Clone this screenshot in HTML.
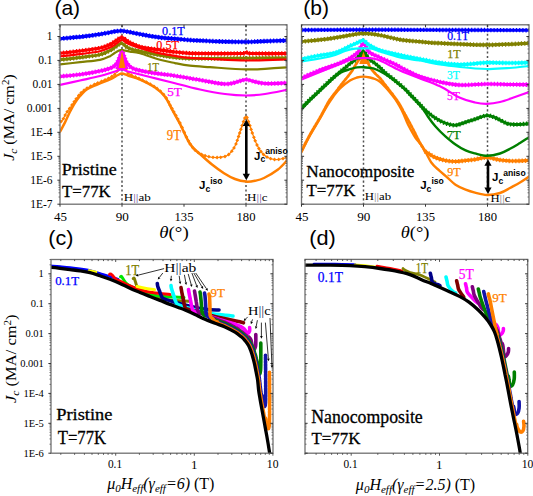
<!DOCTYPE html>
<html><head><meta charset="utf-8"><style>
html,body{margin:0;padding:0;background:#fff;width:533px;height:496px;overflow:hidden}
svg{display:block}
</style></head><body>
<svg width="533" height="496" viewBox="0 0 533 496">
<rect width="533" height="496" fill="#fff"/>
<clipPath id="cpa"><rect x="60.0" y="24.8" width="227.0" height="179.39999999999998"/></clipPath>
<clipPath id="cpb"><rect x="301.5" y="24.8" width="227.5" height="179.39999999999998"/></clipPath>
<clipPath id="cpc"><rect x="51.0" y="259.5" width="222.0" height="193.7"/></clipPath>
<clipPath id="cpd"><rect x="305.0" y="259.4" width="222.70000000000005" height="193.8"/></clipPath>
<line x1="122.0" y1="24.8" x2="122.0" y2="204.2" stroke="#505050" stroke-width="1.5" stroke-dasharray="2.1 2.35"/>
<line x1="246.0" y1="24.8" x2="246.0" y2="204.2" stroke="#505050" stroke-width="1.5" stroke-dasharray="2.1 2.35"/>
<line x1="363.5" y1="24.8" x2="363.5" y2="204.2" stroke="#505050" stroke-width="1.5" stroke-dasharray="2.1 2.35"/>
<line x1="487.5" y1="24.8" x2="487.5" y2="204.2" stroke="#505050" stroke-width="1.5" stroke-dasharray="2.1 2.35"/>
<g clip-path="url(#cpa)">
<path d="M60.0,131.8 C60.8,130.2 63.3,125.7 65.0,122.4 C66.7,119.1 68.3,115.1 70.0,111.8 C71.7,108.5 73.3,105.4 75.0,102.8 C76.7,100.2 78.3,98.0 80.0,96.0 C81.7,94.0 83.3,92.1 85.0,90.7 C86.7,89.3 87.5,88.9 90.0,87.7 C92.5,86.5 96.7,84.7 100.0,83.3 C103.3,81.9 107.0,80.8 110.0,79.4 C113.0,78.0 116.0,76.0 118.0,75.0 C120.0,74.0 120.3,73.4 122.0,73.5 C123.7,73.6 125.0,74.5 128.0,75.5 C131.0,76.5 135.5,77.5 140.0,79.5 C144.5,81.5 150.8,84.6 155.0,87.5 C159.2,90.4 162.2,93.0 165.0,96.7 C167.8,100.4 169.5,104.9 172.0,109.4 C174.5,114.0 177.0,118.2 180.0,124.0 C183.0,129.8 186.7,139.0 190.0,144.0 C193.3,149.0 196.3,150.6 200.0,154.0 C203.7,157.4 208.0,161.3 212.0,164.5 C216.0,167.7 220.2,170.8 224.0,173.2 C227.8,175.6 231.3,177.6 235.0,179.0 C238.7,180.4 242.7,181.3 246.0,181.6 C249.3,181.9 252.0,181.4 255.0,180.8 C258.0,180.2 260.2,179.9 264.0,178.0 C267.8,176.1 274.2,172.4 278.0,169.5 C281.8,166.6 285.5,162.0 287.0,160.5" fill="none" stroke="#ff7f00" stroke-width="2.5" stroke-linejoin="round" stroke-linecap="round" />
<path d="M61.0,121.5 C61.3,121.2 62.2,120.8 63.0,119.5 C63.8,118.2 64.8,115.4 66.0,113.5 C67.2,111.6 68.5,110.2 70.0,108.0 C71.5,105.8 73.3,102.8 75.0,100.5 C76.7,98.2 78.3,95.8 80.0,94.0 C81.7,92.2 83.0,90.9 85.0,89.5 C87.0,88.1 89.5,86.8 92.0,85.5 C94.5,84.2 97.0,83.3 100.0,82.0 C103.0,80.7 107.3,79.0 110.0,77.5 C112.7,76.0 114.5,74.9 116.0,73.0 C117.5,71.1 118.2,68.8 119.0,66.0 C119.8,63.2 120.5,58.5 121.0,56.0 C121.5,53.5 121.7,51.0 122.0,51.0 C122.3,51.0 122.5,53.5 123.0,56.0 C123.5,58.5 124.2,63.2 125.0,66.0 C125.8,68.8 125.5,70.8 128.0,73.0 C130.5,75.2 135.5,76.7 140.0,79.0 C144.5,81.3 150.8,84.2 155.0,87.0 C159.2,89.8 162.2,92.4 165.0,96.0 C167.8,99.6 169.5,104.0 172.0,108.5 C174.5,113.0 177.2,117.6 180.0,123.0 C182.8,128.4 185.8,136.3 188.5,141.0 C191.2,145.7 193.1,148.5 196.0,151.0 C198.9,153.5 202.3,154.9 206.0,156.0 C209.7,157.1 214.3,157.7 218.0,157.5 C221.7,157.3 225.2,156.9 228.0,155.0 C230.8,153.1 233.0,149.8 235.0,146.0 C237.0,142.2 238.7,135.8 240.0,132.0 C241.3,128.2 242.0,125.6 243.0,123.0 C244.0,120.4 245.0,116.4 246.0,116.4 C247.0,116.4 248.0,120.4 249.0,123.0 C250.0,125.6 250.7,128.3 252.0,132.0 C253.3,135.7 255.2,141.3 257.0,145.0 C258.8,148.7 260.8,151.8 263.0,154.0 C265.2,156.2 267.5,157.6 270.0,158.5 C272.5,159.4 275.2,159.7 278.0,159.5 C280.8,159.3 285.5,157.8 287.0,157.5" fill="none" stroke="#ff7f00" stroke-width="1.2" stroke-linejoin="round" stroke-linecap="round" />
<path d="M61.0,119.6l1.9,1.9l-1.9,1.9l-1.9,-1.9zM63.4,116.8l1.9,1.9l-1.9,1.9l-1.9,-1.9zM65.2,113.2l1.9,1.9l-1.9,1.9l-1.9,-1.9zM67.2,109.8l1.9,1.9l-1.9,1.9l-1.9,-1.9zM69.6,106.6l1.9,1.9l-1.9,1.9l-1.9,-1.9zM72.0,103.1l1.9,1.9l-1.9,1.9l-1.9,-1.9zM74.2,99.8l1.9,1.9l-1.9,1.9l-1.9,-1.9zM76.2,96.9l1.9,1.9l-1.9,1.9l-1.9,-1.9zM78.8,93.6l1.9,1.9l-1.9,1.9l-1.9,-1.9zM81.2,90.8l1.9,1.9l-1.9,1.9l-1.9,-1.9zM84.1,88.3l1.9,1.9l-1.9,1.9l-1.9,-1.9zM87.1,86.2l1.9,1.9l-1.9,1.9l-1.9,-1.9zM90.8,84.2l1.9,1.9l-1.9,1.9l-1.9,-1.9zM94.5,82.4l1.9,1.9l-1.9,1.9l-1.9,-1.9zM97.8,81.0l1.9,1.9l-1.9,1.9l-1.9,-1.9zM101.6,79.4l1.9,1.9l-1.9,1.9l-1.9,-1.9zM105.1,77.9l1.9,1.9l-1.9,1.9l-1.9,-1.9zM108.5,76.4l1.9,1.9l-1.9,1.9l-1.9,-1.9zM111.9,74.5l1.9,1.9l-1.9,1.9l-1.9,-1.9zM114.8,72.4l1.9,1.9l-1.9,1.9l-1.9,-1.9zM117.3,69.1l1.9,1.9l-1.9,1.9l-1.9,-1.9zM118.6,65.5l1.9,1.9l-1.9,1.9l-1.9,-1.9zM119.6,61.7l1.9,1.9l-1.9,1.9l-1.9,-1.9zM120.3,58.1l1.9,1.9l-1.9,1.9l-1.9,-1.9zM121.0,54.1l1.9,1.9l-1.9,1.9l-1.9,-1.9zM121.6,50.2l1.9,1.9l-1.9,1.9l-1.9,-1.9zM122.6,51.7l1.9,1.9l-1.9,1.9l-1.9,-1.9zM123.3,55.5l1.9,1.9l-1.9,1.9l-1.9,-1.9zM124.0,59.9l1.9,1.9l-1.9,1.9l-1.9,-1.9zM125.0,64.1l1.9,1.9l-1.9,1.9l-1.9,-1.9zM125.9,67.8l1.9,1.9l-1.9,1.9l-1.9,-1.9zM128.0,71.1l1.9,1.9l-1.9,1.9l-1.9,-1.9zM131.2,73.1l1.9,1.9l-1.9,1.9l-1.9,-1.9zM135.4,75.0l1.9,1.9l-1.9,1.9l-1.9,-1.9zM138.9,76.5l1.9,1.9l-1.9,1.9l-1.9,-1.9zM142.4,78.3l1.9,1.9l-1.9,1.9l-1.9,-1.9zM146.3,80.2l1.9,1.9l-1.9,1.9l-1.9,-1.9zM150.3,82.3l1.9,1.9l-1.9,1.9l-1.9,-1.9zM153.9,84.4l1.9,1.9l-1.9,1.9l-1.9,-1.9zM157.0,86.5l1.9,1.9l-1.9,1.9l-1.9,-1.9zM160.5,89.3l1.9,1.9l-1.9,1.9l-1.9,-1.9zM163.6,92.4l1.9,1.9l-1.9,1.9l-1.9,-1.9zM166.3,96.0l1.9,1.9l-1.9,1.9l-1.9,-1.9zM168.6,100.0l1.9,1.9l-1.9,1.9l-1.9,-1.9zM170.2,103.3l1.9,1.9l-1.9,1.9l-1.9,-1.9zM172.0,106.6l1.9,1.9l-1.9,1.9l-1.9,-1.9zM173.9,110.0l1.9,1.9l-1.9,1.9l-1.9,-1.9zM175.9,113.5l1.9,1.9l-1.9,1.9l-1.9,-1.9zM177.9,117.2l1.9,1.9l-1.9,1.9l-1.9,-1.9zM180.0,121.1l1.9,1.9l-1.9,1.9l-1.9,-1.9zM182.1,125.5l1.9,1.9l-1.9,1.9l-1.9,-1.9zM184.3,130.4l1.9,1.9l-1.9,1.9l-1.9,-1.9zM186.4,135.1l1.9,1.9l-1.9,1.9l-1.9,-1.9zM188.5,139.1l1.9,1.9l-1.9,1.9l-1.9,-1.9zM190.4,142.3l1.9,1.9l-1.9,1.9l-1.9,-1.9zM192.7,145.7l1.9,1.9l-1.9,1.9l-1.9,-1.9zM195.3,148.5l1.9,1.9l-1.9,1.9l-1.9,-1.9zM198.3,150.8l1.9,1.9l-1.9,1.9l-1.9,-1.9zM201.6,152.5l1.9,1.9l-1.9,1.9l-1.9,-1.9zM205.1,153.8l1.9,1.9l-1.9,1.9l-1.9,-1.9zM208.9,154.8l1.9,1.9l-1.9,1.9l-1.9,-1.9zM213.0,155.4l1.9,1.9l-1.9,1.9l-1.9,-1.9zM217.1,155.6l1.9,1.9l-1.9,1.9l-1.9,-1.9zM220.7,155.4l1.9,1.9l-1.9,1.9l-1.9,-1.9zM225.0,154.6l1.9,1.9l-1.9,1.9l-1.9,-1.9zM228.7,152.6l1.9,1.9l-1.9,1.9l-1.9,-1.9zM231.8,149.3l1.9,1.9l-1.9,1.9l-1.9,-1.9zM234.0,146.0l1.9,1.9l-1.9,1.9l-1.9,-1.9zM236.0,142.0l1.9,1.9l-1.9,1.9l-1.9,-1.9zM237.3,138.4l1.9,1.9l-1.9,1.9l-1.9,-1.9zM238.6,134.6l1.9,1.9l-1.9,1.9l-1.9,-1.9zM239.7,131.1l1.9,1.9l-1.9,1.9l-1.9,-1.9zM240.9,127.4l1.9,1.9l-1.9,1.9l-1.9,-1.9zM242.1,123.7l1.9,1.9l-1.9,1.9l-1.9,-1.9zM243.5,119.7l1.9,1.9l-1.9,1.9l-1.9,-1.9zM244.8,116.2l1.9,1.9l-1.9,1.9l-1.9,-1.9zM247.0,115.6l1.9,1.9l-1.9,1.9l-1.9,-1.9zM248.5,119.7l1.9,1.9l-1.9,1.9l-1.9,-1.9zM249.9,123.8l1.9,1.9l-1.9,1.9l-1.9,-1.9zM251.1,127.5l1.9,1.9l-1.9,1.9l-1.9,-1.9zM252.3,131.1l1.9,1.9l-1.9,1.9l-1.9,-1.9zM253.9,135.4l1.9,1.9l-1.9,1.9l-1.9,-1.9zM255.2,138.9l1.9,1.9l-1.9,1.9l-1.9,-1.9zM257.0,143.1l1.9,1.9l-1.9,1.9l-1.9,-1.9zM258.9,146.6l1.9,1.9l-1.9,1.9l-1.9,-1.9zM260.9,149.6l1.9,1.9l-1.9,1.9l-1.9,-1.9zM263.5,152.6l1.9,1.9l-1.9,1.9l-1.9,-1.9zM267.0,155.2l1.9,1.9l-1.9,1.9l-1.9,-1.9zM270.6,156.8l1.9,1.9l-1.9,1.9l-1.9,-1.9zM274.5,157.6l1.9,1.9l-1.9,1.9l-1.9,-1.9zM278.7,157.5l1.9,1.9l-1.9,1.9l-1.9,-1.9zM283.0,156.7l1.9,1.9l-1.9,1.9l-1.9,-1.9zM286.6,155.7l1.9,1.9l-1.9,1.9l-1.9,-1.9z" fill="#ff7f00"/>
<path d="M60.0,85.0 C63.3,84.2 73.3,82.0 80.0,80.5 C86.7,79.0 94.2,77.5 100.0,76.0 C105.8,74.5 111.3,72.6 115.0,71.5 C118.7,70.4 119.5,69.4 122.0,69.5 C124.5,69.6 125.3,70.8 130.0,72.0 C134.7,73.2 143.3,75.3 150.0,77.0 C156.7,78.7 161.7,79.9 170.0,82.0 C178.3,84.1 190.8,87.5 200.0,89.5 C209.2,91.5 217.3,93.0 225.0,94.0 C232.7,95.0 239.3,95.5 246.0,95.5 C252.7,95.5 258.2,95.0 265.0,94.0 C271.8,93.0 283.3,90.5 287.0,89.8" fill="none" stroke="#ff00ff" stroke-width="2.2" stroke-linejoin="round" stroke-linecap="round" />
<path d="M60.0,76.4 C63.3,76.1 73.3,75.4 80.0,74.5 C86.7,73.6 94.7,72.2 100.0,71.0 C105.3,69.8 109.2,68.8 112.0,67.5 C114.8,66.2 115.7,64.9 117.0,63.0 C118.3,61.1 119.2,57.9 120.0,56.0 C120.8,54.1 121.3,51.5 122.0,51.5 C122.7,51.5 123.2,54.1 124.0,56.0 C124.8,57.9 125.5,60.9 127.0,63.0 C128.5,65.1 129.2,66.9 133.0,68.5 C136.8,70.1 143.8,71.4 150.0,72.5 C156.2,73.6 161.7,73.8 170.0,75.0 C178.3,76.2 190.8,78.5 200.0,80.0 C209.2,81.5 218.3,83.8 225.0,84.0 C231.7,84.2 236.5,81.8 240.0,81.0 C243.5,80.2 244.0,79.5 246.0,79.5 C248.0,79.5 248.8,80.3 252.0,81.0 C255.2,81.7 259.2,83.2 265.0,83.5 C270.8,83.8 283.3,83.1 287.0,83.0" fill="none" stroke="#ff00ff" stroke-width="3.2" stroke-linejoin="round" stroke-linecap="round"/>
<path d="M60.0,76.4 C63.3,76.1 73.3,75.4 80.0,74.5 C86.7,73.6 94.7,72.2 100.0,71.0 C105.3,69.8 109.2,68.8 112.0,67.5 C114.8,66.2 115.7,64.9 117.0,63.0 C118.3,61.1 119.2,57.9 120.0,56.0 C120.8,54.1 121.3,51.5 122.0,51.5 C122.7,51.5 123.2,54.1 124.0,56.0 C124.8,57.9 125.5,60.9 127.0,63.0 C128.5,65.1 129.2,66.9 133.0,68.5 C136.8,70.1 143.8,71.4 150.0,72.5 C156.2,73.6 161.7,73.8 170.0,75.0 C178.3,76.2 190.8,78.5 200.0,80.0 C209.2,81.5 218.3,83.8 225.0,84.0 C231.7,84.2 236.5,81.8 240.0,81.0 C243.5,80.2 244.0,79.5 246.0,79.5 C248.0,79.5 248.8,80.3 252.0,81.0 C255.2,81.7 259.2,83.2 265.0,83.5 C270.8,83.8 283.3,83.1 287.0,83.0" fill="none" stroke="#ff00ff" stroke-width="4.6" stroke-dasharray="1.2 2.0" stroke-linejoin="round"/>
<path d="M60.0,64.4 C63.3,64.0 73.3,63.0 80.0,62.2 C86.7,61.4 95.0,60.8 100.0,59.8 C105.0,58.8 107.5,57.4 110.0,56.2 C112.5,55.0 113.5,53.7 115.0,52.8 C116.5,51.9 117.8,51.1 119.0,50.6 C120.2,50.1 121.0,49.8 122.0,49.8 C123.0,49.8 123.7,50.3 125.0,50.6 C126.3,50.9 127.5,51.2 130.0,51.6 C132.5,52.0 135.0,51.9 140.0,53.3 C145.0,54.7 154.2,58.2 160.0,59.8 C165.8,61.4 170.0,62.1 175.0,63.1 C180.0,64.1 184.2,65.0 190.0,65.7 C195.8,66.4 200.7,66.6 210.0,67.2 C219.3,67.8 236.8,69.1 246.0,69.4 C255.2,69.7 258.2,69.2 265.0,68.8 C271.8,68.4 283.3,67.5 287.0,67.3" fill="none" stroke="#808000" stroke-width="2.2" stroke-linejoin="round" stroke-linecap="round" />
<path d="M60.0,59.8 C63.3,59.4 73.3,58.4 80.0,57.5 C86.7,56.6 95.0,55.8 100.0,54.6 C105.0,53.4 107.5,51.7 110.0,50.5 C112.5,49.3 113.5,48.3 115.0,47.3 C116.5,46.3 117.8,45.1 119.0,44.5 C120.2,43.9 120.8,43.1 122.0,43.4 C123.2,43.7 124.7,45.6 126.0,46.5 C127.3,47.4 127.7,47.9 130.0,48.7 C132.3,49.5 135.0,50.2 140.0,51.3 C145.0,52.4 154.2,54.2 160.0,55.2 C165.8,56.2 170.0,56.9 175.0,57.4 C180.0,57.9 184.2,58.3 190.0,58.5 C195.8,58.7 200.7,58.5 210.0,58.5 C219.3,58.5 233.2,58.3 246.0,58.2 C258.8,58.1 280.2,58.0 287.0,58.0" fill="none" stroke="#808000" stroke-width="3.0" stroke-linejoin="round" stroke-linecap="round"/>
<path d="M60.0,59.8 C63.3,59.4 73.3,58.4 80.0,57.5 C86.7,56.6 95.0,55.8 100.0,54.6 C105.0,53.4 107.5,51.7 110.0,50.5 C112.5,49.3 113.5,48.3 115.0,47.3 C116.5,46.3 117.8,45.1 119.0,44.5 C120.2,43.9 120.8,43.1 122.0,43.4 C123.2,43.7 124.7,45.6 126.0,46.5 C127.3,47.4 127.7,47.9 130.0,48.7 C132.3,49.5 135.0,50.2 140.0,51.3 C145.0,52.4 154.2,54.2 160.0,55.2 C165.8,56.2 170.0,56.9 175.0,57.4 C180.0,57.9 184.2,58.3 190.0,58.5 C195.8,58.7 200.7,58.5 210.0,58.5 C219.3,58.5 233.2,58.3 246.0,58.2 C258.8,58.1 280.2,58.0 287.0,58.0" fill="none" stroke="#808000" stroke-width="4.4" stroke-dasharray="1.2 2.0" stroke-linejoin="round"/>
<path d="M60.0,56.5 C63.3,56.1 73.3,55.1 80.0,54.2 C86.7,53.3 95.0,52.4 100.0,51.3 C105.0,50.2 107.5,48.6 110.0,47.5 C112.5,46.4 113.5,45.7 115.0,44.7 C116.5,43.7 117.8,42.3 119.0,41.5 C120.2,40.7 120.8,39.8 122.0,40.0 C123.2,40.2 124.7,41.8 126.0,42.5 C127.3,43.2 127.7,43.6 130.0,44.5 C132.3,45.4 136.7,46.9 140.0,48.0 C143.3,49.1 146.7,50.1 150.0,51.0 C153.3,51.9 155.8,52.5 160.0,53.3 C164.2,54.1 170.0,55.1 175.0,55.9 C180.0,56.7 184.2,57.4 190.0,57.9 C195.8,58.4 200.7,58.6 210.0,59.0 C219.3,59.4 233.2,60.4 246.0,60.5 C258.8,60.6 280.2,59.7 287.0,59.5" fill="none" stroke="#ff0000" stroke-width="2.2" stroke-linejoin="round" stroke-linecap="round" />
<path d="M60.0,53.3 C63.3,52.9 73.3,51.9 80.0,51.0 C86.7,50.1 95.0,49.1 100.0,48.0 C105.0,46.9 107.5,45.6 110.0,44.5 C112.5,43.4 113.5,42.4 115.0,41.4 C116.5,40.4 117.8,39.2 119.0,38.6 C120.2,38.0 120.8,37.4 122.0,37.6 C123.2,37.8 124.7,39.1 126.0,40.0 C127.3,40.9 127.7,41.6 130.0,42.7 C132.3,43.8 136.7,45.7 140.0,46.7 C143.3,47.7 146.7,48.1 150.0,48.6 C153.3,49.1 155.8,49.4 160.0,50.0 C164.2,50.6 170.0,51.5 175.0,52.0 C180.0,52.5 185.8,53.0 190.0,53.3 C194.2,53.5 191.7,53.5 200.0,53.5 C208.3,53.5 232.3,53.6 240.0,53.5 C247.7,53.4 244.0,52.6 246.0,52.6 C248.0,52.6 245.2,53.4 252.0,53.5 C258.8,53.6 281.2,53.5 287.0,53.5" fill="none" stroke="#ff0000" stroke-width="3.2" stroke-linejoin="round" stroke-linecap="round"/>
<path d="M60.0,53.3 C63.3,52.9 73.3,51.9 80.0,51.0 C86.7,50.1 95.0,49.1 100.0,48.0 C105.0,46.9 107.5,45.6 110.0,44.5 C112.5,43.4 113.5,42.4 115.0,41.4 C116.5,40.4 117.8,39.2 119.0,38.6 C120.2,38.0 120.8,37.4 122.0,37.6 C123.2,37.8 124.7,39.1 126.0,40.0 C127.3,40.9 127.7,41.6 130.0,42.7 C132.3,43.8 136.7,45.7 140.0,46.7 C143.3,47.7 146.7,48.1 150.0,48.6 C153.3,49.1 155.8,49.4 160.0,50.0 C164.2,50.6 170.0,51.5 175.0,52.0 C180.0,52.5 185.8,53.0 190.0,53.3 C194.2,53.5 191.7,53.5 200.0,53.5 C208.3,53.5 232.3,53.6 240.0,53.5 C247.7,53.4 244.0,52.6 246.0,52.6 C248.0,52.6 245.2,53.4 252.0,53.5 C258.8,53.6 281.2,53.5 287.0,53.5" fill="none" stroke="#ff0000" stroke-width="4.6" stroke-dasharray="1.2 2.0" stroke-linejoin="round"/>
<path d="M115.5,69 L119.5,57 L121.3,50.3 L122.7,50.3 L124.5,57 L128.5,69 Z" fill="#ff00ff"/>
<path d="M118.6,68 L120.6,58 L121.6,52.2 L122.4,52.2 L123.4,58 L125.4,68 Z" fill="#ff8000"/>
<path d="M60.0,38.8 C62.5,38.5 70.0,37.8 75.0,37.3 C80.0,36.8 85.8,36.2 90.0,35.7 C94.2,35.2 96.7,34.8 100.0,34.2 C103.3,33.7 107.3,32.9 110.0,32.4 C112.7,31.9 114.0,31.6 116.0,31.3 C118.0,31.1 119.7,30.8 122.0,30.9 C124.3,31.0 127.0,31.7 130.0,32.2 C133.0,32.8 136.7,33.6 140.0,34.2 C143.3,34.8 146.7,35.5 150.0,36.0 C153.3,36.5 155.8,37.0 160.0,37.5 C164.2,38.0 170.0,38.4 175.0,38.8 C180.0,39.2 185.8,39.8 190.0,40.1 C194.2,40.4 195.0,40.4 200.0,40.6 C205.0,40.8 212.3,41.3 220.0,41.5 C227.7,41.7 238.5,41.9 246.0,41.9 C253.5,41.9 258.2,41.4 265.0,41.2 C271.8,41.0 283.3,40.6 287.0,40.5" fill="none" stroke="#0000ff" stroke-width="3.4" stroke-linejoin="round" stroke-linecap="round"/>
<path d="M60.0,38.8 C62.5,38.5 70.0,37.8 75.0,37.3 C80.0,36.8 85.8,36.2 90.0,35.7 C94.2,35.2 96.7,34.8 100.0,34.2 C103.3,33.7 107.3,32.9 110.0,32.4 C112.7,31.9 114.0,31.6 116.0,31.3 C118.0,31.1 119.7,30.8 122.0,30.9 C124.3,31.0 127.0,31.7 130.0,32.2 C133.0,32.8 136.7,33.6 140.0,34.2 C143.3,34.8 146.7,35.5 150.0,36.0 C153.3,36.5 155.8,37.0 160.0,37.5 C164.2,38.0 170.0,38.4 175.0,38.8 C180.0,39.2 185.8,39.8 190.0,40.1 C194.2,40.4 195.0,40.4 200.0,40.6 C205.0,40.8 212.3,41.3 220.0,41.5 C227.7,41.7 238.5,41.9 246.0,41.9 C253.5,41.9 258.2,41.4 265.0,41.2 C271.8,41.0 283.3,40.6 287.0,40.5" fill="none" stroke="#0000ff" stroke-width="4.8" stroke-dasharray="1.2 2.0" stroke-linejoin="round"/>
</g>
<g clip-path="url(#cpb)">
<path d="M301.5,152.0 C302.9,149.2 306.9,141.1 310.0,135.5 C313.1,129.9 317.2,123.4 320.0,118.5 C322.8,113.6 324.8,109.6 327.0,106.0 C329.2,102.4 330.8,99.8 333.0,96.9 C335.2,94.0 337.2,91.1 340.0,88.4 C342.8,85.7 347.2,82.4 350.0,80.6 C352.8,78.8 354.8,78.2 357.0,77.5 C359.2,76.8 361.3,76.6 363.5,76.6 C365.7,76.6 368.1,77.1 370.0,77.5 C371.9,77.9 373.3,78.3 375.0,79.0 C376.7,79.7 378.3,80.5 380.0,81.8 C381.7,83.1 383.3,84.9 385.0,86.7 C386.7,88.5 388.3,90.4 390.0,92.4 C391.7,94.4 393.3,96.5 395.0,98.9 C396.7,101.3 398.5,104.3 400.0,107.0 C401.5,109.7 402.7,112.1 404.0,115.0 C405.3,117.9 406.1,120.8 408.0,124.5 C409.9,128.2 412.9,133.8 415.3,137.5 C417.7,141.2 419.7,142.2 422.4,146.4 C425.1,150.6 428.5,158.5 431.3,162.5 C434.1,166.5 436.7,168.1 439.4,170.6 C442.1,173.1 444.7,175.2 447.4,177.6 C450.1,179.9 452.5,182.7 455.5,184.7 C458.5,186.7 462.4,188.4 465.6,189.7 C468.9,191.0 471.4,191.8 475.0,192.7 C478.6,193.6 482.8,194.9 487.0,195.0 C491.2,195.1 496.2,194.2 500.0,193.0 C503.8,191.8 506.7,189.8 510.0,188.0 C513.3,186.2 516.8,184.4 520.0,182.5 C523.2,180.6 527.5,177.6 529.0,176.6" fill="none" stroke="#ff7f00" stroke-width="2.4" stroke-linejoin="round" stroke-linecap="round" />
<path d="M301.5,151.0 C302.9,148.2 306.9,140.1 310.0,134.5 C313.1,128.9 316.8,123.1 320.0,117.5 C323.2,111.9 326.2,105.5 329.0,101.0 C331.8,96.5 334.7,93.4 337.0,90.3 C339.3,87.2 341.2,84.7 343.0,82.4 C344.8,80.1 346.5,78.2 348.0,76.3 C349.5,74.4 350.7,72.9 352.0,70.9 C353.3,68.9 354.7,66.3 356.0,64.2 C357.3,62.1 358.8,60.2 360.0,58.2 C361.2,56.2 362.3,51.7 363.5,52.0 C364.7,52.3 365.9,57.5 367.0,60.0 C368.1,62.5 368.7,64.8 370.0,67.0 C371.3,69.2 373.3,71.4 375.0,73.3 C376.7,75.2 378.3,76.3 380.0,78.2 C381.7,80.1 383.3,82.5 385.0,84.6 C386.7,86.7 388.3,88.8 390.0,91.0 C391.7,93.2 393.3,95.2 395.0,97.5 C396.7,99.8 398.5,102.5 400.0,105.0 C401.5,107.5 402.5,109.8 404.0,112.5 C405.5,115.2 407.2,118.1 409.0,121.5 C410.8,124.9 413.2,129.4 415.0,133.0 C416.8,136.6 418.3,139.9 420.0,143.0 C421.7,146.1 424.3,150.0 425.2,151.4" fill="none" stroke="#ff7f00" stroke-width="2.8" stroke-linejoin="round" stroke-linecap="round" stroke-dasharray="2.2 1.6"/>
<path d="M425.2,151.4 C426.9,152.4 431.9,156.0 435.3,157.5 C438.7,159.0 442.0,159.8 445.4,160.5 C448.8,161.2 452.1,161.5 455.5,161.5 C458.9,161.5 462.4,160.8 465.6,160.5 C468.9,160.2 471.4,160.0 475.0,159.5 C478.6,159.0 482.8,157.4 487.0,157.5 C491.2,157.6 495.8,159.4 500.0,160.0 C504.2,160.6 507.2,160.9 512.0,161.0 C516.8,161.1 526.2,160.5 529.0,160.4" fill="none" stroke="#ff7f00" stroke-width="3.2" stroke-linejoin="round" stroke-linecap="round"/>
<path d="M425.2,151.4 C426.9,152.4 431.9,156.0 435.3,157.5 C438.7,159.0 442.0,159.8 445.4,160.5 C448.8,161.2 452.1,161.5 455.5,161.5 C458.9,161.5 462.4,160.8 465.6,160.5 C468.9,160.2 471.4,160.0 475.0,159.5 C478.6,159.0 482.8,157.4 487.0,157.5 C491.2,157.6 495.8,159.4 500.0,160.0 C504.2,160.6 507.2,160.9 512.0,161.0 C516.8,161.1 526.2,160.5 529.0,160.4" fill="none" stroke="#ff7f00" stroke-width="4.6" stroke-dasharray="1.2 2.0" stroke-linejoin="round"/>
<path d="M301.5,109.5 C302.9,108.0 306.9,103.6 310.0,100.5 C313.1,97.4 316.7,94.2 320.0,91.0 C323.3,87.8 326.7,84.5 330.0,81.5 C333.3,78.5 336.7,75.0 340.0,73.0 C343.3,71.0 347.2,70.1 350.0,69.2 C352.8,68.3 354.8,67.7 357.0,67.4 C359.2,67.1 361.3,67.1 363.5,67.2 C365.7,67.3 368.1,67.7 370.0,68.0 C371.9,68.3 372.5,68.0 375.0,69.0 C377.5,70.0 381.7,72.0 385.0,74.0 C388.3,76.0 391.7,78.4 395.0,81.0 C398.3,83.6 402.5,87.1 405.0,89.5 C407.5,91.9 408.3,93.4 410.0,95.2 C411.7,97.0 413.2,98.3 415.3,100.5 C417.4,102.7 420.3,105.5 422.4,108.2 C424.5,110.9 425.9,113.7 428.0,116.7 C430.1,119.7 432.4,122.9 435.3,126.2 C438.2,129.5 442.0,133.3 445.4,136.3 C448.8,139.3 452.1,142.1 455.5,144.4 C458.9,146.8 462.4,148.9 465.6,150.4 C468.9,151.9 471.4,152.5 475.0,153.4 C478.6,154.3 482.8,155.8 487.0,155.8 C491.2,155.8 496.2,154.7 500.0,153.5 C503.8,152.3 506.7,150.6 510.0,148.8 C513.3,147.1 516.8,144.9 520.0,143.0 C523.2,141.1 527.5,138.2 529.0,137.3" fill="none" stroke="#007f00" stroke-width="2.4" stroke-linejoin="round" stroke-linecap="round" />
<path d="M301.5,108.0 C302.9,106.6 306.9,102.5 310.0,99.5 C313.1,96.5 316.7,93.2 320.0,90.0 C323.3,86.8 326.7,83.5 330.0,80.5 C333.3,77.5 337.5,74.1 340.0,72.0 C342.5,69.9 343.3,69.4 345.0,68.0 C346.7,66.6 348.3,64.9 350.0,63.6 C351.7,62.3 353.5,61.4 355.0,60.0 C356.5,58.6 357.6,57.0 359.0,55.5 C360.4,54.0 362.2,51.2 363.5,51.3 C364.8,51.4 365.9,54.6 367.0,56.0 C368.1,57.4 368.7,58.7 370.0,59.9 C371.3,61.1 373.3,62.1 375.0,63.4 C376.7,64.7 378.3,66.2 380.0,67.7 C381.7,69.2 382.5,70.5 385.0,72.6 C387.5,74.7 391.7,77.8 395.0,80.5 C398.3,83.2 401.6,85.8 405.0,89.0 C408.4,92.2 411.8,96.0 415.2,99.5 C418.6,103.0 421.8,106.9 425.2,110.0 C428.6,113.1 431.9,115.9 435.3,118.1 C438.7,120.3 442.0,122.0 445.4,123.2 C448.8,124.4 452.1,125.4 455.5,125.2 C458.9,125.0 462.4,123.2 465.6,122.2 C468.9,121.2 471.4,120.3 475.0,119.2 C478.6,118.1 483.3,115.5 487.0,115.4 C490.7,115.3 493.7,117.2 497.0,118.5 C500.3,119.8 504.0,122.5 507.0,123.5 C510.0,124.5 511.3,124.5 515.0,124.5 C518.7,124.5 526.7,123.7 529.0,123.5" fill="none" stroke="#007f00" stroke-width="3.0" stroke-linejoin="round" stroke-linecap="round"/>
<path d="M301.5,108.0 C302.9,106.6 306.9,102.5 310.0,99.5 C313.1,96.5 316.7,93.2 320.0,90.0 C323.3,86.8 326.7,83.5 330.0,80.5 C333.3,77.5 337.5,74.1 340.0,72.0 C342.5,69.9 343.3,69.4 345.0,68.0 C346.7,66.6 348.3,64.9 350.0,63.6 C351.7,62.3 353.5,61.4 355.0,60.0 C356.5,58.6 357.6,57.0 359.0,55.5 C360.4,54.0 362.2,51.2 363.5,51.3 C364.8,51.4 365.9,54.6 367.0,56.0 C368.1,57.4 368.7,58.7 370.0,59.9 C371.3,61.1 373.3,62.1 375.0,63.4 C376.7,64.7 378.3,66.2 380.0,67.7 C381.7,69.2 382.5,70.5 385.0,72.6 C387.5,74.7 391.7,77.8 395.0,80.5 C398.3,83.2 401.6,85.8 405.0,89.0 C408.4,92.2 411.8,96.0 415.2,99.5 C418.6,103.0 421.8,106.9 425.2,110.0 C428.6,113.1 431.9,115.9 435.3,118.1 C438.7,120.3 442.0,122.0 445.4,123.2 C448.8,124.4 452.1,125.4 455.5,125.2 C458.9,125.0 462.4,123.2 465.6,122.2 C468.9,121.2 471.4,120.3 475.0,119.2 C478.6,118.1 483.3,115.5 487.0,115.4 C490.7,115.3 493.7,117.2 497.0,118.5 C500.3,119.8 504.0,122.5 507.0,123.5 C510.0,124.5 511.3,124.5 515.0,124.5 C518.7,124.5 526.7,123.7 529.0,123.5" fill="none" stroke="#007f00" stroke-width="4.4" stroke-dasharray="1.2 2.0" stroke-linejoin="round"/>
<path d="M358.3,59.5 L363.5,49.6 L368.7,59.5 Z" fill="#007f00"/>
<path d="M359.2,64 L363.5,51.5 L367.8,64 Z" fill="#ff8000"/>
<path d="M301.5,79.5 C306.2,77.6 321.9,71.2 330.0,68.0 C338.1,64.8 345.5,61.6 350.0,60.0 C354.5,58.4 354.8,58.7 357.0,58.4 C359.2,58.1 361.0,58.2 363.5,58.2 C366.0,58.2 369.2,58.0 372.0,58.4 C374.8,58.8 375.3,58.5 380.0,60.5 C384.7,62.5 393.3,67.5 400.0,70.5 C406.7,73.5 413.3,75.8 420.0,78.4 C426.7,81.0 433.3,83.1 440.0,86.3 C446.7,89.5 454.2,95.1 460.0,97.8 C465.8,100.5 470.5,101.5 475.0,102.5 C479.5,103.5 482.8,103.9 487.0,103.8 C491.2,103.7 495.3,103.1 500.0,102.0 C504.7,100.9 510.2,98.7 515.0,97.0 C519.8,95.3 526.7,92.8 529.0,92.0" fill="none" stroke="#ff00ff" stroke-width="2.2" stroke-linejoin="round" stroke-linecap="round" />
<path d="M301.5,78.0 C304.2,76.8 313.2,72.8 318.0,70.9 C322.8,69.0 326.3,67.9 330.0,66.6 C333.7,65.3 336.7,64.4 340.0,63.0 C343.3,61.6 347.0,60.0 350.0,58.2 C353.0,56.4 355.8,54.6 358.0,52.1 C360.2,49.6 361.7,43.5 363.5,43.5 C365.3,43.5 366.2,49.6 369.0,52.0 C371.8,54.4 375.7,55.6 380.0,57.6 C384.3,59.6 390.8,62.2 395.0,64.2 C399.2,66.2 400.8,67.6 405.0,69.7 C409.2,71.8 414.2,74.5 420.0,76.6 C425.8,78.6 433.3,80.6 440.0,82.0 C446.7,83.4 452.2,84.7 460.0,85.0 C467.8,85.3 478.7,84.1 487.0,84.0 C495.3,83.9 503.0,84.4 510.0,84.5 C517.0,84.6 525.8,84.6 529.0,84.6" fill="none" stroke="#ff00ff" stroke-width="3.2" stroke-linejoin="round" stroke-linecap="round"/>
<path d="M301.5,78.0 C304.2,76.8 313.2,72.8 318.0,70.9 C322.8,69.0 326.3,67.9 330.0,66.6 C333.7,65.3 336.7,64.4 340.0,63.0 C343.3,61.6 347.0,60.0 350.0,58.2 C353.0,56.4 355.8,54.6 358.0,52.1 C360.2,49.6 361.7,43.5 363.5,43.5 C365.3,43.5 366.2,49.6 369.0,52.0 C371.8,54.4 375.7,55.6 380.0,57.6 C384.3,59.6 390.8,62.2 395.0,64.2 C399.2,66.2 400.8,67.6 405.0,69.7 C409.2,71.8 414.2,74.5 420.0,76.6 C425.8,78.6 433.3,80.6 440.0,82.0 C446.7,83.4 452.2,84.7 460.0,85.0 C467.8,85.3 478.7,84.1 487.0,84.0 C495.3,83.9 503.0,84.4 510.0,84.5 C517.0,84.6 525.8,84.6 529.0,84.6" fill="none" stroke="#ff00ff" stroke-width="4.6" stroke-dasharray="1.2 2.0" stroke-linejoin="round"/>
<path d="M301.5,61.5 C306.2,60.7 322.8,58.2 330.0,56.5 C337.2,54.8 340.8,52.3 345.0,51.0 C349.2,49.7 351.9,49.0 355.0,48.6 C358.1,48.2 360.7,48.4 363.5,48.4 C366.3,48.4 369.2,48.1 372.0,48.6 C374.8,49.1 375.3,50.0 380.0,51.5 C384.7,53.0 393.3,56.0 400.0,57.5 C406.7,59.0 413.3,59.3 420.0,60.5 C426.7,61.7 433.3,63.4 440.0,64.5 C446.7,65.6 452.2,66.2 460.0,67.0 C467.8,67.8 478.7,68.8 487.0,69.0 C495.3,69.2 503.0,68.5 510.0,68.0 C517.0,67.5 525.8,66.3 529.0,66.0" fill="none" stroke="#00ffff" stroke-width="2.2" stroke-linejoin="round" stroke-linecap="round" />
<path d="M301.5,59.0 C304.2,58.5 313.2,56.6 318.0,55.7 C322.8,54.9 326.3,54.7 330.0,53.9 C333.7,53.1 336.7,52.2 340.0,50.9 C343.3,49.6 347.0,47.4 350.0,46.0 C353.0,44.6 355.8,43.3 358.0,42.4 C360.2,41.5 361.7,40.1 363.5,40.5 C365.3,40.9 366.2,43.4 369.0,45.0 C371.8,46.6 374.8,48.6 380.0,50.3 C385.2,52.0 393.3,53.6 400.0,55.1 C406.7,56.6 413.3,57.7 420.0,59.0 C426.7,60.3 433.3,61.8 440.0,62.7 C446.7,63.6 452.2,64.5 460.0,64.5 C467.8,64.5 478.7,63.0 487.0,62.7 C495.3,62.5 503.0,63.0 510.0,63.0 C517.0,63.0 525.8,62.8 529.0,62.7" fill="none" stroke="#00ffff" stroke-width="3.2" stroke-linejoin="round" stroke-linecap="round"/>
<path d="M301.5,59.0 C304.2,58.5 313.2,56.6 318.0,55.7 C322.8,54.9 326.3,54.7 330.0,53.9 C333.7,53.1 336.7,52.2 340.0,50.9 C343.3,49.6 347.0,47.4 350.0,46.0 C353.0,44.6 355.8,43.3 358.0,42.4 C360.2,41.5 361.7,40.1 363.5,40.5 C365.3,40.9 366.2,43.4 369.0,45.0 C371.8,46.6 374.8,48.6 380.0,50.3 C385.2,52.0 393.3,53.6 400.0,55.1 C406.7,56.6 413.3,57.7 420.0,59.0 C426.7,60.3 433.3,61.8 440.0,62.7 C446.7,63.6 452.2,64.5 460.0,64.5 C467.8,64.5 478.7,63.0 487.0,62.7 C495.3,62.5 503.0,63.0 510.0,63.0 C517.0,63.0 525.8,62.8 529.0,62.7" fill="none" stroke="#00ffff" stroke-width="4.6" stroke-dasharray="1.2 2.0" stroke-linejoin="round"/>
<path d="M301.5,41.6 C306.2,41.1 321.9,39.7 330.0,38.6 C338.1,37.5 344.4,36.1 350.0,35.2 C355.6,34.3 358.5,33.3 363.5,33.3 C368.5,33.3 373.9,34.1 380.0,35.2 C386.1,36.3 393.3,38.6 400.0,39.7 C406.7,40.8 413.3,41.1 420.0,41.7 C426.7,42.3 428.8,42.7 440.0,43.2 C451.2,43.7 472.2,44.9 487.0,44.9 C501.8,44.9 522.0,43.5 529.0,43.2" fill="none" stroke="#808000" stroke-width="3.2" stroke-linejoin="round" stroke-linecap="round"/>
<path d="M301.5,41.6 C306.2,41.1 321.9,39.7 330.0,38.6 C338.1,37.5 344.4,36.1 350.0,35.2 C355.6,34.3 358.5,33.3 363.5,33.3 C368.5,33.3 373.9,34.1 380.0,35.2 C386.1,36.3 393.3,38.6 400.0,39.7 C406.7,40.8 413.3,41.1 420.0,41.7 C426.7,42.3 428.8,42.7 440.0,43.2 C451.2,43.7 472.2,44.9 487.0,44.9 C501.8,44.9 522.0,43.5 529.0,43.2" fill="none" stroke="#808000" stroke-width="4.6" stroke-dasharray="1.2 2.0" stroke-linejoin="round"/>
<path d="M301.5,30.0 L363.5,29.7 L529.0,30.2" fill="none" stroke="#0000ff" stroke-width="3.0" stroke-linejoin="round" stroke-linecap="round"/>
<path d="M301.5,30.0 L363.5,29.7 L529.0,30.2" fill="none" stroke="#0000ff" stroke-width="4.4" stroke-dasharray="1.2 2.0" stroke-linejoin="round"/>
</g>
<line x1="246.3" y1="125.0" x2="246.3" y2="174.7" stroke="#000" stroke-width="2.6"/>
<path d="M242.70000000000002,173.7 L249.9,173.7 L246.3,180.2 Z" fill="#000"/>
<path d="M242.70000000000002,126.0 L249.9,126.0 L246.3,119.5 Z" fill="#000"/>
<line x1="488.0" y1="164.7" x2="488.0" y2="188.4" stroke="#000" stroke-width="2.6"/>
<path d="M484.4,187.4 L491.6,187.4 L488.0,193.9 Z" fill="#000"/>
<path d="M484.4,165.7 L491.6,165.7 L488.0,159.2 Z" fill="#000"/>
<g clip-path="url(#cpc)">
<path d="M51.0,266.0 C52.5,266.1 56.8,266.3 60.0,266.6 C63.2,266.9 66.7,267.2 70.0,267.6 C73.3,268.0 77.0,268.5 80.0,268.9 C83.0,269.3 84.7,269.4 88.0,270.2 C91.3,271.0 96.3,272.4 100.0,273.5 C103.7,274.6 107.0,275.5 110.0,276.5 C113.0,277.5 116.7,278.9 118.0,279.4" fill="none" stroke="#0000ff" stroke-width="2.8" stroke-linejoin="round" stroke-linecap="round" />
<path d="M89.0,270.5 L96.0,271.9" fill="none" stroke="#ffff00" stroke-width="2.6" stroke-linejoin="round" stroke-linecap="round" />
<path d="M133.2,278.6 C133.4,278.6 133.8,277.7 134.2,278.3 C134.6,278.9 134.9,280.6 135.5,282.0 C136.1,283.4 135.9,285.4 137.5,287.0 C139.1,288.6 142.1,290.1 145.0,291.5 C147.9,292.9 152.0,294.2 155.0,295.5 C158.0,296.8 159.7,298.5 163.0,299.3 C166.3,300.1 170.5,300.1 175.0,300.4 C179.5,300.7 187.5,301.1 190.0,301.2" fill="none" stroke="#808000" stroke-width="3.0" stroke-linejoin="round" stroke-linecap="round" />
<path d="M120.5,276.8 C120.7,276.8 121.0,276.1 121.5,276.5 C122.0,276.9 122.6,278.2 123.5,279.5 C124.4,280.8 125.4,282.7 127.0,284.0 C128.6,285.3 130.8,286.4 133.0,287.5 C135.2,288.6 137.2,289.3 140.0,290.5 C142.8,291.7 145.8,293.6 150.0,294.6 C154.2,295.6 159.3,296.1 165.0,296.6 C170.7,297.1 180.8,297.4 184.0,297.6" fill="none" stroke="#00e600" stroke-width="3.0" stroke-linejoin="round" stroke-linecap="round" />
<path d="M109.5,274.3 C109.8,274.2 110.4,273.7 111.0,274.0 C111.6,274.3 112.2,275.1 113.0,276.0 C113.8,276.9 114.5,278.2 116.0,279.2 C117.5,280.2 119.7,280.9 122.0,282.0 C124.3,283.1 127.0,284.7 130.0,286.0 C133.0,287.3 136.7,288.8 140.0,289.8 C143.3,290.9 145.0,291.5 150.0,292.3 C155.0,293.1 166.7,294.2 170.0,294.6" fill="none" stroke="#ff0000" stroke-width="3.0" stroke-linejoin="round" stroke-linecap="round" />
<path d="M137.0,286.5 C138.3,286.8 142.1,287.6 145.0,288.2 C147.9,288.8 152.9,289.5 154.5,289.8" fill="none" stroke="#ffff00" stroke-width="3.0" stroke-linejoin="round" stroke-linecap="round" />
<path d="M157.3,283.5 C157.4,284.0 157.4,285.3 157.8,286.5 C158.2,287.7 158.8,289.2 159.4,290.8 C160.0,292.2 160.5,294.2 161.2,295.5 C161.9,296.8 161.2,297.4 163.5,298.5 C165.8,299.6 170.6,300.9 175.0,302.2 C179.4,303.5 185.0,305.1 190.0,306.3 C195.0,307.5 200.2,308.7 205.0,309.3 C209.8,309.9 216.7,309.9 219.0,310.0" fill="none" stroke="#000088" stroke-width="3.6" stroke-linejoin="round" stroke-linecap="round" />
<path d="M171.0,285.5 C171.1,286.0 171.1,287.0 171.5,288.5 C171.9,290.0 172.8,292.6 173.5,294.8 C174.2,296.9 174.9,299.9 175.7,301.5 C176.5,303.1 175.6,303.3 178.0,304.5 C180.4,305.7 184.7,307.1 190.0,308.6 C195.3,310.1 204.0,312.2 210.0,313.3 C216.0,314.4 222.2,314.9 226.0,315.3 C229.8,315.8 231.8,315.9 233.0,316.0" fill="none" stroke="#00ffff" stroke-width="3.6" stroke-linejoin="round" stroke-linecap="round" />
<path d="M181.0,287.5 C181.1,288.0 181.2,288.8 181.5,290.5 C181.8,292.2 182.5,295.4 183.0,298.0 C183.6,300.6 184.0,304.2 184.7,306.0 C185.4,307.8 184.4,307.9 187.0,309.0 C189.6,310.1 195.3,311.1 200.0,312.3 C204.7,313.6 210.0,315.3 215.0,316.5 C220.0,317.7 225.8,318.8 230.0,319.7 C234.2,320.6 237.8,321.2 240.0,321.7 C242.2,322.2 242.9,322.6 243.5,322.8" fill="none" stroke="#800000" stroke-width="3.6" stroke-linejoin="round" stroke-linecap="round" />
<path d="M188.5,289.5 C188.6,290.0 188.7,290.7 189.0,292.5 C189.3,294.3 190.0,297.6 190.5,300.2 C191.1,302.9 191.5,306.6 192.2,308.5 C192.9,310.4 192.4,310.4 194.5,311.5 C196.6,312.6 200.8,313.4 205.0,314.8 C209.2,316.2 215.0,318.1 220.0,319.7 C225.0,321.3 231.2,322.8 235.0,324.2 C238.8,325.6 240.9,326.5 243.0,328.0 C245.1,329.5 246.4,332.5 247.5,333.0 C248.6,333.5 249.2,331.9 249.6,331.0 C249.9,330.1 249.6,328.1 249.6,327.5" fill="none" stroke="#ff00ff" stroke-width="3.6" stroke-linejoin="round" stroke-linecap="round" />
<path d="M194.5,291.0 C194.6,291.5 194.7,292.2 195.0,294.0 C195.3,295.8 195.9,299.2 196.3,302.0 C196.8,304.8 197.1,308.6 197.7,310.5 C198.3,312.4 198.9,313.1 200.0,313.5 C201.1,313.9 202.9,312.9 204.1,313.1 C205.2,313.2 206.3,314.2 206.8,314.4" fill="none" stroke="#800080" stroke-width="3.6" stroke-linejoin="round" stroke-linecap="round" />
<path d="M204.1,313.1 C204.5,313.3 205.9,314.0 206.8,314.4 C207.7,314.8 208.4,315.0 209.3,315.4 C210.2,315.7 211.2,316.1 212.1,316.5 C213.1,316.9 214.0,317.2 215.0,317.6 C215.9,318.0 216.9,318.3 217.8,318.7 C218.7,319.1 219.7,319.4 220.7,319.8 C221.6,320.1 222.6,320.5 223.5,320.9 C224.5,321.2 225.3,321.5 226.4,322.0 C227.4,322.4 228.7,323.1 229.7,323.6 C230.7,324.1 231.5,324.5 232.4,325.0 C233.3,325.5 234.1,325.8 235.1,326.4 C236.1,327.0 237.5,327.7 238.5,328.3 C239.5,329.0 240.2,329.6 241.1,330.2 C241.9,330.8 242.7,331.3 243.6,332.1 C244.5,332.8 245.6,333.9 246.5,334.7 C247.4,335.6 248.2,336.4 249.0,337.2 C249.7,338.1 250.6,339.6 251.0,340.0" fill="none" stroke="#800080" stroke-width="1.8" stroke-linejoin="round" stroke-linecap="round" />
<path d="M249.0,337.2 C249.3,337.7 250.3,338.0 251.0,340.0 C251.7,342.1 252.4,348.5 253.2,349.5 C254.0,350.5 255.2,348.5 255.6,346.0 C256.0,343.5 255.8,336.4 255.8,334.5" fill="none" stroke="#800080" stroke-width="3.6" stroke-linejoin="round" stroke-linecap="round" />
<path d="M200.0,292.0 C200.1,292.5 200.3,293.1 200.5,295.0 C200.7,296.9 201.1,300.6 201.3,303.5 C201.6,306.4 201.7,310.5 202.2,312.5 C202.7,314.5 203.6,314.9 204.5,315.5 C205.4,316.1 206.8,315.8 207.9,316.1 C208.9,316.4 210.3,317.1 210.7,317.2" fill="none" stroke="#007f00" stroke-width="3.6" stroke-linejoin="round" stroke-linecap="round" />
<path d="M207.9,316.1 C208.4,316.3 209.8,316.9 210.7,317.2 C211.7,317.6 212.6,318.0 213.6,318.4 C214.5,318.7 215.5,319.1 216.4,319.5 C217.4,319.8 218.3,320.2 219.3,320.5 C220.2,320.9 221.2,321.3 222.1,321.6 C223.1,322.0 224.0,322.3 225.0,322.7 C226.0,323.1 227.2,323.7 228.2,324.2 C229.2,324.6 230.0,325.1 230.9,325.6 C231.8,326.1 232.8,326.5 233.7,327.0 C234.6,327.5 235.4,327.8 236.4,328.4 C237.4,329.0 238.6,329.9 239.5,330.5 C240.5,331.2 241.2,331.7 242.1,332.4 C243.0,333.2 244.1,334.1 244.9,334.9 C245.8,335.6 246.4,336.2 247.1,337.0 C247.9,337.9 248.7,339.0 249.4,339.9 C250.1,340.8 250.6,341.4 251.2,342.4 C251.8,343.3 252.5,344.8 253.0,345.9 C253.5,346.9 253.8,347.7 254.3,348.8 C254.7,349.8 255.1,351.1 255.4,352.2 C255.8,353.3 256.1,354.3 256.4,355.3 C256.7,356.4 257.0,357.5 257.2,358.5 C257.5,359.5 257.7,360.4 258.0,361.4 C258.2,362.4 258.5,363.4 258.7,364.4 C258.9,365.5 259.2,367.1 259.3,367.6" fill="none" stroke="#007f00" stroke-width="1.8" stroke-linejoin="round" stroke-linecap="round" />
<path d="M258.7,364.4 C258.8,365.0 259.3,366.0 259.3,367.6 C259.3,369.2 258.4,373.6 258.6,374.0 C258.8,374.4 260.2,375.2 260.6,370.0 C261.0,364.8 260.8,347.5 260.8,343.0" fill="none" stroke="#007f00" stroke-width="3.6" stroke-linejoin="round" stroke-linecap="round" />
<path d="M204.5,293.0 C204.6,293.5 204.8,294.1 205.0,296.0 C205.2,297.9 205.4,301.7 205.6,304.6 C205.8,307.6 205.7,311.8 206.2,313.8 C206.7,315.8 207.7,316.0 208.5,316.8 C209.3,317.6 210.4,318.1 211.3,318.6 C212.2,319.1 213.7,319.6 214.1,319.8" fill="none" stroke="#1414aa" stroke-width="3.6" stroke-linejoin="round" stroke-linecap="round" />
<path d="M211.3,318.6 C211.8,318.8 213.2,319.4 214.1,319.8 C215.1,320.1 216.0,320.5 217.0,320.9 C217.9,321.2 218.9,321.6 219.8,321.9 C220.8,322.3 221.7,322.7 222.7,323.0 C223.6,323.4 224.6,323.7 225.6,324.1 C226.5,324.5 227.6,325.1 228.6,325.6 C229.6,326.1 230.4,326.6 231.3,327.0 C232.2,327.5 233.1,327.9 234.1,328.4 C235.0,329.0 236.2,329.6 237.1,330.2 C238.1,330.8 238.9,331.4 239.7,332.1 C240.6,332.7 241.4,333.2 242.3,333.9 C243.1,334.7 244.0,335.6 244.9,336.4 C245.7,337.2 246.5,337.9 247.2,338.7 C247.9,339.6 248.5,340.5 249.1,341.4 C249.7,342.3 250.5,343.1 251.0,344.1 C251.6,345.1 252.0,346.2 252.4,347.3 C252.9,348.3 253.3,349.3 253.7,350.3 C254.1,351.4 254.4,352.5 254.7,353.6 C255.0,354.6 255.3,355.6 255.6,356.7 C255.9,357.7 256.2,358.7 256.4,359.7 C256.7,360.7 256.9,361.7 257.1,362.7 C257.4,363.7 257.6,364.7 257.8,365.8 C258.1,366.8 258.2,367.8 258.4,368.9 C258.6,369.9 258.9,370.9 259.0,372.0 C259.2,373.0 259.4,374.0 259.6,375.0 C259.8,376.0 260.0,376.9 260.2,378.0 C260.3,379.0 260.5,380.2 260.6,381.2 C260.8,382.3 260.8,383.2 260.9,384.2 C261.0,385.2 261.1,386.2 261.2,387.2 C261.3,388.2 261.4,389.1 261.5,390.0 C261.7,391.0 261.9,392.0 262.0,393.0 C262.2,394.0 262.3,395.0 262.5,396.0 C262.7,397.0 262.9,398.5 263.0,399.0" fill="none" stroke="#1414aa" stroke-width="1.8" stroke-linejoin="round" stroke-linecap="round" stroke-dasharray="2.6 0.8"/>
<path d="M262.5,396.0 C262.6,396.5 262.8,397.5 263.0,399.0 C263.2,400.6 263.4,405.2 263.8,405.5 C264.2,405.8 265.3,409.4 265.6,401.0 C265.9,392.6 265.5,362.9 265.5,355.3" fill="none" stroke="#1414aa" stroke-width="3.6" stroke-linejoin="round" stroke-linecap="round" stroke-dasharray="2.6 0.8"/>
<path d="M209.0,294.0 C209.1,294.5 209.3,295.0 209.5,297.0 C209.7,299.0 209.8,302.9 209.9,306.0 C210.0,309.1 209.8,313.4 210.2,315.5 C210.6,317.6 211.7,317.6 212.5,318.5 C213.3,319.4 213.9,320.5 214.7,321.1 C215.6,321.7 217.1,322.0 217.6,322.1" fill="none" stroke="#ff7f00" stroke-width="3.6" stroke-linejoin="round" stroke-linecap="round" />
<path d="M214.7,321.1 C215.2,321.2 216.6,321.8 217.6,322.1 C218.5,322.5 219.5,322.9 220.4,323.2 C221.4,323.6 222.3,323.9 223.3,324.3 C224.3,324.7 225.4,325.1 226.3,325.6 C227.3,326.0 228.1,326.5 229.1,327.0 C230.0,327.4 230.9,327.9 231.8,328.4 C232.7,328.9 233.6,329.3 234.5,329.8 C235.5,330.3 236.5,331.0 237.4,331.6 C238.3,332.2 239.1,332.8 240.0,333.5 C240.9,334.2 241.9,334.9 242.7,335.6 C243.5,336.3 244.2,337.0 244.9,337.8 C245.6,338.6 246.5,339.5 247.1,340.3 C247.8,341.1 248.3,341.9 248.9,342.8 C249.5,343.7 250.2,344.7 250.7,345.7 C251.2,346.7 251.5,347.6 251.9,348.6 C252.3,349.6 252.8,350.7 253.1,351.8 C253.5,352.8 253.7,353.8 254.1,354.9 C254.4,355.9 254.7,357.0 255.0,358.0 C255.2,359.0 255.4,360.0 255.7,361.0 C255.9,361.9 256.2,362.9 256.4,363.9 C256.6,364.9 256.9,366.0 257.1,367.0 C257.3,368.0 257.5,369.1 257.7,370.1 C257.9,371.1 258.1,372.1 258.3,373.2 C258.4,374.2 258.6,375.2 258.8,376.2 C259.0,377.2 259.2,378.1 259.4,379.2 C259.5,380.2 259.6,381.3 259.7,382.3 C259.9,383.3 259.9,384.3 260.0,385.3 C260.1,386.3 260.2,387.3 260.3,388.3 C260.5,389.3 260.6,390.2 260.7,391.2 C260.9,392.2 261.0,393.2 261.2,394.2 C261.4,395.2 261.5,396.2 261.7,397.2 C261.8,398.2 262.0,399.2 262.2,400.2 C262.3,401.2 262.5,402.2 262.7,403.2 C262.9,404.2 263.1,405.2 263.3,406.2 C263.4,407.2 263.6,408.2 263.8,409.2 C264.0,410.2 264.2,411.2 264.4,412.2 C264.5,413.2 264.7,414.2 264.9,415.2 C265.1,416.2 265.3,417.2 265.5,418.2 C265.6,419.2 265.9,420.7 266.0,421.2" fill="none" stroke="#ff7f00" stroke-width="1.8" stroke-linejoin="round" stroke-linecap="round" stroke-dasharray="2.6 0.8"/>
<path d="M265.5,418.2 C265.6,418.7 265.8,419.6 266.0,421.2 C266.3,422.7 266.3,427.2 266.9,427.5 C267.5,427.8 269.0,432.2 269.4,423.0 C269.8,413.8 269.5,380.8 269.5,372.3" fill="none" stroke="#ff7f00" stroke-width="3.6" stroke-linejoin="round" stroke-linecap="round" stroke-dasharray="2.6 0.8"/>
<path d="M51.0,267.4 C52.5,267.5 56.8,267.9 60.0,268.3 C63.2,268.7 66.7,269.2 70.0,269.6 C73.3,270.0 76.7,270.3 80.0,270.8 C83.3,271.3 86.7,271.8 90.0,272.6 C93.3,273.4 96.7,274.7 100.0,275.8 C103.3,276.9 106.7,278.0 110.0,279.3 C113.3,280.6 116.7,282.0 120.0,283.5 C123.3,285.0 126.7,286.7 130.0,288.2 C133.3,289.7 136.7,291.1 140.0,292.5 C143.3,293.9 146.7,295.2 150.0,296.5 C153.3,297.8 156.7,299.1 160.0,300.4 C163.3,301.7 165.8,302.8 170.0,304.4 C174.2,306.0 180.8,308.3 185.0,310.0 C189.2,311.7 191.7,312.9 195.0,314.5 C198.3,316.1 201.7,317.9 205.0,319.3 C208.3,320.8 211.7,321.9 215.0,323.2 C218.3,324.5 221.7,325.5 225.0,327.0 C228.3,328.5 232.3,330.6 235.0,332.2 C237.7,333.8 239.3,335.2 241.0,336.6 C242.7,338.0 243.8,339.1 245.0,340.6 C246.2,342.1 247.5,343.7 248.5,345.5 C249.5,347.3 250.2,349.2 251.0,351.3 C251.8,353.4 252.4,355.7 253.0,358.0 C253.6,360.3 254.3,362.9 254.8,365.3 C255.3,367.7 255.7,370.1 256.2,372.5 C256.7,374.9 257.2,377.1 257.6,380.0 C258.0,382.9 258.2,386.7 258.6,390.0 C259.0,393.3 259.6,396.3 260.2,400.0 C260.8,403.7 261.7,408.0 262.4,412.0 C263.1,416.0 263.9,420.0 264.6,424.0 C265.3,428.0 266.0,431.5 266.8,436.0 C267.6,440.5 268.8,447.8 269.3,451.0 C269.8,454.2 269.6,454.3 269.6,455.0" fill="none" stroke="#000" stroke-width="3.3" stroke-linejoin="round" stroke-linecap="round" />
</g>
<g clip-path="url(#cpd)">
<path d="M314.0,264.2 C317.5,264.2 328.2,264.1 335.0,264.2 C341.8,264.3 351.7,264.5 355.0,264.6" fill="none" stroke="#0000ff" stroke-width="2.8" stroke-linejoin="round" stroke-linecap="round" />
<path d="M355.0,264.8 C356.7,264.9 361.5,265.2 365.0,265.6 C368.5,266.0 374.2,266.9 376.0,267.2" fill="none" stroke="#ffff00" stroke-width="2.8" stroke-linejoin="round" stroke-linecap="round" />
<path d="M377.0,266.2 C379.2,266.6 385.8,267.6 390.0,268.4 C394.2,269.2 400.0,270.6 402.0,271.0" fill="none" stroke="#ff0000" stroke-width="2.8" stroke-linejoin="round" stroke-linecap="round" />
<path d="M403.0,268.6 C403.2,268.8 402.8,269.0 404.0,269.6 C405.2,270.2 407.3,271.6 410.0,272.5 C412.7,273.4 415.8,273.4 420.0,275.0 C424.2,276.6 432.5,280.8 435.0,282.0" fill="none" stroke="#808000" stroke-width="2.8" stroke-linejoin="round" stroke-linecap="round" />
<path d="M430.3,273.3 C430.5,274.0 430.9,275.8 431.3,277.3 C431.7,278.8 431.5,281.1 432.5,282.3 C433.5,283.5 436.0,284.0 437.2,284.5 C438.5,285.1 439.5,285.5 440.0,285.7" fill="none" stroke="#000088" stroke-width="3.6" stroke-linejoin="round" stroke-linecap="round" />
<path d="M446.0,277.0 C446.2,277.7 446.6,279.5 447.0,281.0 C447.4,282.5 447.2,284.2 448.2,286.0 C449.2,287.8 451.7,290.5 452.9,291.6 C454.2,292.8 455.2,292.7 455.6,292.9" fill="none" stroke="#00ffff" stroke-width="3.6" stroke-linejoin="round" stroke-linecap="round" />
<path d="M456.6,280.8 C456.8,281.5 457.2,283.3 457.6,284.8 C458.0,286.3 457.8,287.7 458.8,289.8 C459.8,291.9 463.0,296.0 463.8,297.2" fill="none" stroke="#800000" stroke-width="3.6" stroke-linejoin="round" stroke-linecap="round" />
<path d="M465.5,283.8 C465.7,284.5 466.1,286.3 466.5,287.8 C466.9,289.3 466.3,290.7 467.7,292.8 C469.1,294.9 473.4,299.0 475.0,300.7 C476.6,302.3 476.9,302.3 477.3,302.7" fill="none" stroke="#ff00ff" stroke-width="3.6" stroke-linejoin="round" stroke-linecap="round" />
<path d="M475.0,300.7 C475.4,301.0 476.5,302.0 477.3,302.7 C478.1,303.3 478.8,303.9 479.7,304.7 C480.5,305.4 481.5,306.3 482.3,307.1 C483.1,307.9 483.7,308.6 484.4,309.3 C485.1,310.1 485.8,310.8 486.5,311.5 C487.3,312.3 488.1,313.1 488.8,314.0 C489.5,314.8 490.2,315.8 490.8,316.6 C491.5,317.5 492.0,318.2 492.7,319.1 C493.3,319.9 494.1,320.8 494.7,321.8 C495.4,322.8 496.0,324.2 496.6,325.2 C497.1,326.2 497.7,327.4 498.0,327.9" fill="none" stroke="#ff00ff" stroke-width="1.8" stroke-linejoin="round" stroke-linecap="round" />
<path d="M496.6,325.2 C496.8,325.7 497.6,326.3 498.0,327.9 C498.4,329.4 498.4,333.5 499.0,334.5 C499.6,335.5 500.8,334.6 501.5,334.0 C502.2,333.4 502.9,331.9 503.2,331.0 C503.5,330.1 503.4,328.9 503.4,328.5" fill="none" stroke="#ff00ff" stroke-width="3.6" stroke-linejoin="round" stroke-linecap="round" />
<path d="M472.3,286.8 C472.5,287.5 472.9,289.3 473.3,290.8 C473.7,292.3 473.2,293.0 474.5,295.8 C475.8,298.6 479.8,305.1 481.3,307.4 C482.7,309.7 483.0,309.3 483.4,309.6" fill="none" stroke="#800080" stroke-width="3.6" stroke-linejoin="round" stroke-linecap="round" />
<path d="M481.3,307.4 C481.6,307.8 482.7,308.9 483.4,309.6 C484.1,310.4 484.8,311.1 485.5,311.9 C486.2,312.6 486.8,313.3 487.6,314.1 C488.3,314.9 489.1,316.0 489.7,316.8 C490.4,317.7 490.9,318.4 491.6,319.3 C492.2,320.1 492.8,320.8 493.4,321.7 C494.0,322.6 494.7,323.9 495.2,324.8 C495.7,325.8 496.1,326.4 496.6,327.5 C497.2,328.5 498.0,330.1 498.5,331.2 C498.9,332.4 499.1,333.2 499.5,334.2 C499.8,335.2 500.1,336.2 500.4,337.2 C500.8,338.3 501.1,339.5 501.4,340.5 C501.7,341.5 501.9,342.5 502.2,343.5 C502.5,344.5 502.9,346.0 503.0,346.5" fill="none" stroke="#800080" stroke-width="1.8" stroke-linejoin="round" stroke-linecap="round" />
<path d="M502.2,343.5 C502.3,344.0 502.7,344.4 503.0,346.5 C503.3,348.6 503.6,354.5 504.2,356.0 C504.8,357.5 506.0,356.0 506.7,355.3 C507.4,354.6 508.0,353.1 508.3,352.0 C508.6,350.9 508.6,349.1 508.6,348.5" fill="none" stroke="#800080" stroke-width="3.6" stroke-linejoin="round" stroke-linecap="round" />
<path d="M478.3,289.0 C478.5,289.7 478.9,291.5 479.3,293.0 C479.7,294.5 479.3,294.4 480.5,298.0 C481.7,301.6 485.1,311.2 486.5,314.4 C487.8,317.6 488.3,316.6 488.6,317.0" fill="none" stroke="#007f00" stroke-width="3.6" stroke-linejoin="round" stroke-linecap="round" />
<path d="M486.5,314.4 C486.8,314.8 488.0,316.2 488.6,317.0 C489.3,317.9 489.8,318.6 490.5,319.5 C491.1,320.3 491.7,321.0 492.3,321.9 C492.9,322.8 493.6,323.9 494.1,324.9 C494.6,325.8 495.0,326.5 495.5,327.5 C496.0,328.5 496.8,329.7 497.3,330.8 C497.7,331.9 498.0,333.0 498.3,334.1 C498.7,335.1 499.0,336.0 499.3,337.1 C499.7,338.1 500.0,339.2 500.3,340.2 C500.6,341.3 500.9,342.2 501.1,343.2 C501.4,344.2 501.6,345.2 501.9,346.2 C502.1,347.3 502.4,348.3 502.7,349.3 C502.9,350.3 503.1,351.3 503.4,352.3 C503.6,353.3 503.8,354.3 504.1,355.3 C504.3,356.3 504.5,357.4 504.8,358.4 C505.0,359.4 505.2,360.4 505.4,361.4 C505.6,362.4 505.8,363.4 506.0,364.4 C506.2,365.4 506.4,366.4 506.6,367.4 C506.8,368.4 507.0,369.4 507.2,370.4 C507.4,371.4 507.6,372.4 507.8,373.4 C508.0,374.4 508.2,375.4 508.4,376.4 C508.6,377.4 508.9,378.9 509.0,379.4" fill="none" stroke="#007f00" stroke-width="1.8" stroke-linejoin="round" stroke-linecap="round" />
<path d="M508.4,376.4 C508.5,376.9 508.8,377.8 509.0,379.4 C509.3,380.9 509.2,384.9 509.8,385.8 C510.4,386.7 511.9,385.9 512.6,384.8 C513.3,383.7 513.9,381.1 514.2,379.0 C514.5,376.9 514.3,373.2 514.3,372.0" fill="none" stroke="#007f00" stroke-width="3.6" stroke-linejoin="round" stroke-linecap="round" />
<path d="M483.7,291.6 C483.9,292.3 484.3,294.1 484.7,295.6 C485.1,297.1 484.7,296.1 485.9,300.6 C487.1,305.1 490.5,318.2 491.7,322.3 C493.0,326.4 493.2,324.7 493.5,325.2" fill="none" stroke="#1414aa" stroke-width="3.6" stroke-linejoin="round" stroke-linecap="round" />
<path d="M491.7,322.3 C492.0,322.8 492.9,324.3 493.5,325.2 C494.0,326.1 494.4,326.8 494.9,327.8 C495.4,328.8 496.2,330.0 496.6,331.1 C497.1,332.2 497.3,333.3 497.7,334.3 C498.0,335.3 498.3,336.3 498.7,337.3 C499.0,338.3 499.4,339.4 499.7,340.4 C500.0,341.4 500.2,342.4 500.4,343.4 C500.7,344.4 501.0,345.4 501.2,346.4 C501.5,347.4 501.7,348.5 502.0,349.5 C502.2,350.5 502.4,351.5 502.7,352.5 C502.9,353.5 503.2,354.5 503.4,355.5 C503.6,356.5 503.8,357.5 504.1,358.5 C504.3,359.5 504.5,360.5 504.7,361.5 C504.9,362.5 505.1,363.5 505.3,364.5 C505.5,365.5 505.8,366.5 506.0,367.5 C506.2,368.6 506.4,369.5 506.6,370.5 C506.8,371.5 507.0,372.6 507.2,373.5 C507.4,374.5 507.6,375.5 507.8,376.5 C508.0,377.5 508.2,378.5 508.4,379.5 C508.6,380.5 508.8,381.5 509.0,382.5 C509.2,383.5 509.4,384.5 509.6,385.5 C509.8,386.5 510.0,387.5 510.2,388.5 C510.3,389.5 510.5,390.5 510.7,391.5 C510.9,392.5 511.1,393.5 511.3,394.5 C511.5,395.5 511.7,396.5 511.8,397.5 C512.0,398.5 512.2,399.6 512.4,400.6 C512.6,401.6 512.8,402.6 513.0,403.6 C513.2,404.6 513.4,405.6 513.6,406.5 C513.8,407.5 514.1,409.0 514.2,409.5" fill="none" stroke="#1414aa" stroke-width="1.8" stroke-linejoin="round" stroke-linecap="round" />
<path d="M513.6,406.5 C513.7,407.0 513.9,408.3 514.2,409.5 C514.4,410.8 514.2,413.6 514.8,414.2 C515.4,414.8 516.9,414.2 517.6,413.2 C518.3,412.2 518.9,409.9 519.1,408.0 C519.4,406.1 519.1,402.6 519.1,401.5" fill="none" stroke="#1414aa" stroke-width="3.6" stroke-linejoin="round" stroke-linecap="round" />
<path d="M488.3,293.9 C488.5,294.6 488.9,296.4 489.3,297.9 C489.7,299.4 489.4,297.3 490.5,302.9 C491.6,308.5 495.0,326.0 496.2,331.3 C497.3,336.6 497.0,333.9 497.2,334.4" fill="none" stroke="#ff7f00" stroke-width="3.6" stroke-linejoin="round" stroke-linecap="round" />
<path d="M496.2,331.3 C496.3,331.8 496.9,333.4 497.2,334.4 C497.5,335.5 497.9,336.4 498.2,337.4 C498.5,338.5 498.9,339.5 499.2,340.5 C499.5,341.6 499.7,342.5 499.9,343.5 C500.2,344.5 500.5,345.5 500.7,346.5 C501.0,347.6 501.2,348.6 501.5,349.6 C501.7,350.6 502.0,351.6 502.2,352.6 C502.4,353.6 502.7,354.6 502.9,355.6 C503.1,356.6 503.4,357.6 503.6,358.6 C503.8,359.6 504.0,360.6 504.2,361.6 C504.4,362.6 504.6,363.6 504.8,364.6 C505.1,365.6 505.3,366.6 505.5,367.6 C505.7,368.7 505.9,369.6 506.1,370.6 C506.3,371.6 506.5,372.6 506.7,373.6 C506.9,374.6 507.1,375.6 507.3,376.6 C507.5,377.6 507.7,378.6 507.9,379.6 C508.1,380.6 508.3,381.6 508.5,382.6 C508.7,383.6 508.9,384.6 509.1,385.6 C509.3,386.6 509.5,387.6 509.7,388.6 C509.9,389.6 510.0,390.6 510.2,391.6 C510.4,392.6 510.6,393.6 510.8,394.6 C511.0,395.6 511.2,396.6 511.3,397.6 C511.5,398.6 511.7,399.6 511.9,400.7 C512.1,401.7 512.3,402.7 512.5,403.7 C512.7,404.7 512.9,405.6 513.1,406.6 C513.3,407.6 513.5,408.6 513.7,409.6 C513.9,410.6 514.1,411.6 514.3,412.6 C514.5,413.6 514.7,414.6 514.9,415.6 C515.1,416.6 515.3,417.6 515.5,418.6 C515.7,419.6 515.9,420.6 516.1,421.6 C516.3,422.6 516.5,423.6 516.7,424.6 C516.9,425.6 517.2,427.1 517.3,427.6" fill="none" stroke="#ff7f00" stroke-width="1.8" stroke-linejoin="round" stroke-linecap="round" />
<path d="M516.7,424.6 C516.8,425.1 516.8,426.4 517.3,427.6 C517.9,428.8 519.1,431.2 520.0,431.8 C520.9,432.4 522.1,432.0 522.8,431.0 C523.5,430.0 523.9,427.6 524.0,426.0 C524.1,424.4 523.7,422.2 523.6,421.4" fill="none" stroke="#ff7f00" stroke-width="3.6" stroke-linejoin="round" stroke-linecap="round" />
<path d="M305.0,265.1 C309.2,265.1 322.5,265.0 330.0,265.1 C337.5,265.2 344.2,265.3 350.0,265.6 C355.8,265.9 360.0,266.2 365.0,266.7 C370.0,267.2 375.0,267.8 380.0,268.5 C385.0,269.2 390.0,269.9 395.0,270.9 C400.0,271.9 405.7,273.2 410.0,274.6 C414.3,276.0 417.5,277.9 421.0,279.4 C424.5,280.9 427.6,282.1 431.0,283.5 C434.4,284.9 438.1,286.5 441.3,287.9 C444.5,289.3 446.9,290.4 450.0,291.9 C453.1,293.3 456.8,294.9 460.0,296.6 C463.2,298.3 466.0,300.0 469.0,302.2 C472.0,304.4 475.3,307.3 478.0,309.8 C480.7,312.3 482.9,314.8 485.0,317.2 C487.1,319.6 488.9,322.0 490.5,324.5 C492.1,327.0 493.4,329.3 494.5,332.0 C495.6,334.7 496.5,337.7 497.3,340.5 C498.1,343.3 498.8,346.2 499.5,349.0 C500.2,351.8 500.9,354.7 501.5,357.5 C502.1,360.3 502.7,363.1 503.3,366.0 C503.9,368.9 504.4,371.3 505.1,375.0 C505.9,378.7 506.9,383.6 507.8,388.4 C508.7,393.2 509.7,398.9 510.7,404.0 C511.7,409.1 512.7,413.8 513.7,419.0 C514.8,424.2 516.0,429.6 517.0,435.0 C518.0,440.4 519.5,448.2 520.0,451.5 C520.5,454.8 520.2,454.4 520.3,455.0" fill="none" stroke="#000" stroke-width="3.3" stroke-linejoin="round" stroke-linecap="round" />
</g>
<rect x="60.0" y="24.8" width="227.0" height="179.4" fill="none" stroke="#707070" stroke-width="1.3"/>
<rect x="301.5" y="24.8" width="227.5" height="179.4" fill="none" stroke="#707070" stroke-width="1.3"/>
<rect x="51.0" y="259.5" width="222.0" height="193.7" fill="none" stroke="#707070" stroke-width="1.3"/>
<rect x="305.0" y="259.4" width="222.7" height="193.8" fill="none" stroke="#707070" stroke-width="1.3"/>
<line x1="57.4" y1="204.2" x2="60.0" y2="204.2" stroke="#333" stroke-width="1"/>
<line x1="287.0" y1="204.2" x2="284.4" y2="204.2" stroke="#333" stroke-width="1"/>
<line x1="58.5" y1="197.0" x2="60.0" y2="197.0" stroke="#555" stroke-width="0.8"/>
<line x1="287.0" y1="197.0" x2="285.5" y2="197.0" stroke="#555" stroke-width="0.8"/>
<line x1="58.5" y1="192.8" x2="60.0" y2="192.8" stroke="#555" stroke-width="0.8"/>
<line x1="287.0" y1="192.8" x2="285.5" y2="192.8" stroke="#555" stroke-width="0.8"/>
<line x1="58.5" y1="189.8" x2="60.0" y2="189.8" stroke="#555" stroke-width="0.8"/>
<line x1="287.0" y1="189.8" x2="285.5" y2="189.8" stroke="#555" stroke-width="0.8"/>
<line x1="58.5" y1="187.5" x2="60.0" y2="187.5" stroke="#555" stroke-width="0.8"/>
<line x1="287.0" y1="187.5" x2="285.5" y2="187.5" stroke="#555" stroke-width="0.8"/>
<line x1="58.5" y1="185.6" x2="60.0" y2="185.6" stroke="#555" stroke-width="0.8"/>
<line x1="287.0" y1="185.6" x2="285.5" y2="185.6" stroke="#555" stroke-width="0.8"/>
<line x1="58.5" y1="184.0" x2="60.0" y2="184.0" stroke="#555" stroke-width="0.8"/>
<line x1="287.0" y1="184.0" x2="285.5" y2="184.0" stroke="#555" stroke-width="0.8"/>
<line x1="58.5" y1="182.6" x2="60.0" y2="182.6" stroke="#555" stroke-width="0.8"/>
<line x1="287.0" y1="182.6" x2="285.5" y2="182.6" stroke="#555" stroke-width="0.8"/>
<line x1="58.5" y1="181.3" x2="60.0" y2="181.3" stroke="#555" stroke-width="0.8"/>
<line x1="287.0" y1="181.3" x2="285.5" y2="181.3" stroke="#555" stroke-width="0.8"/>
<line x1="57.4" y1="180.2" x2="60.0" y2="180.2" stroke="#333" stroke-width="1"/>
<line x1="287.0" y1="180.2" x2="284.4" y2="180.2" stroke="#333" stroke-width="1"/>
<line x1="58.5" y1="173.0" x2="60.0" y2="173.0" stroke="#555" stroke-width="0.8"/>
<line x1="287.0" y1="173.0" x2="285.5" y2="173.0" stroke="#555" stroke-width="0.8"/>
<line x1="58.5" y1="168.8" x2="60.0" y2="168.8" stroke="#555" stroke-width="0.8"/>
<line x1="287.0" y1="168.8" x2="285.5" y2="168.8" stroke="#555" stroke-width="0.8"/>
<line x1="58.5" y1="165.8" x2="60.0" y2="165.8" stroke="#555" stroke-width="0.8"/>
<line x1="287.0" y1="165.8" x2="285.5" y2="165.8" stroke="#555" stroke-width="0.8"/>
<line x1="58.5" y1="163.5" x2="60.0" y2="163.5" stroke="#555" stroke-width="0.8"/>
<line x1="287.0" y1="163.5" x2="285.5" y2="163.5" stroke="#555" stroke-width="0.8"/>
<line x1="58.5" y1="161.6" x2="60.0" y2="161.6" stroke="#555" stroke-width="0.8"/>
<line x1="287.0" y1="161.6" x2="285.5" y2="161.6" stroke="#555" stroke-width="0.8"/>
<line x1="58.5" y1="160.0" x2="60.0" y2="160.0" stroke="#555" stroke-width="0.8"/>
<line x1="287.0" y1="160.0" x2="285.5" y2="160.0" stroke="#555" stroke-width="0.8"/>
<line x1="58.5" y1="158.6" x2="60.0" y2="158.6" stroke="#555" stroke-width="0.8"/>
<line x1="287.0" y1="158.6" x2="285.5" y2="158.6" stroke="#555" stroke-width="0.8"/>
<line x1="58.5" y1="157.4" x2="60.0" y2="157.4" stroke="#555" stroke-width="0.8"/>
<line x1="287.0" y1="157.4" x2="285.5" y2="157.4" stroke="#555" stroke-width="0.8"/>
<line x1="57.4" y1="156.3" x2="60.0" y2="156.3" stroke="#333" stroke-width="1"/>
<line x1="287.0" y1="156.3" x2="284.4" y2="156.3" stroke="#333" stroke-width="1"/>
<line x1="58.5" y1="149.1" x2="60.0" y2="149.1" stroke="#555" stroke-width="0.8"/>
<line x1="287.0" y1="149.1" x2="285.5" y2="149.1" stroke="#555" stroke-width="0.8"/>
<line x1="58.5" y1="144.8" x2="60.0" y2="144.8" stroke="#555" stroke-width="0.8"/>
<line x1="287.0" y1="144.8" x2="285.5" y2="144.8" stroke="#555" stroke-width="0.8"/>
<line x1="58.5" y1="141.9" x2="60.0" y2="141.9" stroke="#555" stroke-width="0.8"/>
<line x1="287.0" y1="141.9" x2="285.5" y2="141.9" stroke="#555" stroke-width="0.8"/>
<line x1="58.5" y1="139.5" x2="60.0" y2="139.5" stroke="#555" stroke-width="0.8"/>
<line x1="287.0" y1="139.5" x2="285.5" y2="139.5" stroke="#555" stroke-width="0.8"/>
<line x1="58.5" y1="137.6" x2="60.0" y2="137.6" stroke="#555" stroke-width="0.8"/>
<line x1="287.0" y1="137.6" x2="285.5" y2="137.6" stroke="#555" stroke-width="0.8"/>
<line x1="58.5" y1="136.0" x2="60.0" y2="136.0" stroke="#555" stroke-width="0.8"/>
<line x1="287.0" y1="136.0" x2="285.5" y2="136.0" stroke="#555" stroke-width="0.8"/>
<line x1="58.5" y1="134.6" x2="60.0" y2="134.6" stroke="#555" stroke-width="0.8"/>
<line x1="287.0" y1="134.6" x2="285.5" y2="134.6" stroke="#555" stroke-width="0.8"/>
<line x1="58.5" y1="133.4" x2="60.0" y2="133.4" stroke="#555" stroke-width="0.8"/>
<line x1="287.0" y1="133.4" x2="285.5" y2="133.4" stroke="#555" stroke-width="0.8"/>
<line x1="57.4" y1="132.3" x2="60.0" y2="132.3" stroke="#333" stroke-width="1"/>
<line x1="287.0" y1="132.3" x2="284.4" y2="132.3" stroke="#333" stroke-width="1"/>
<line x1="58.5" y1="125.1" x2="60.0" y2="125.1" stroke="#555" stroke-width="0.8"/>
<line x1="287.0" y1="125.1" x2="285.5" y2="125.1" stroke="#555" stroke-width="0.8"/>
<line x1="58.5" y1="120.9" x2="60.0" y2="120.9" stroke="#555" stroke-width="0.8"/>
<line x1="287.0" y1="120.9" x2="285.5" y2="120.9" stroke="#555" stroke-width="0.8"/>
<line x1="58.5" y1="117.9" x2="60.0" y2="117.9" stroke="#555" stroke-width="0.8"/>
<line x1="287.0" y1="117.9" x2="285.5" y2="117.9" stroke="#555" stroke-width="0.8"/>
<line x1="58.5" y1="115.6" x2="60.0" y2="115.6" stroke="#555" stroke-width="0.8"/>
<line x1="287.0" y1="115.6" x2="285.5" y2="115.6" stroke="#555" stroke-width="0.8"/>
<line x1="58.5" y1="113.7" x2="60.0" y2="113.7" stroke="#555" stroke-width="0.8"/>
<line x1="287.0" y1="113.7" x2="285.5" y2="113.7" stroke="#555" stroke-width="0.8"/>
<line x1="58.5" y1="112.1" x2="60.0" y2="112.1" stroke="#555" stroke-width="0.8"/>
<line x1="287.0" y1="112.1" x2="285.5" y2="112.1" stroke="#555" stroke-width="0.8"/>
<line x1="58.5" y1="110.7" x2="60.0" y2="110.7" stroke="#555" stroke-width="0.8"/>
<line x1="287.0" y1="110.7" x2="285.5" y2="110.7" stroke="#555" stroke-width="0.8"/>
<line x1="58.5" y1="109.5" x2="60.0" y2="109.5" stroke="#555" stroke-width="0.8"/>
<line x1="287.0" y1="109.5" x2="285.5" y2="109.5" stroke="#555" stroke-width="0.8"/>
<line x1="57.4" y1="108.4" x2="60.0" y2="108.4" stroke="#333" stroke-width="1"/>
<line x1="287.0" y1="108.4" x2="284.4" y2="108.4" stroke="#333" stroke-width="1"/>
<line x1="58.5" y1="101.1" x2="60.0" y2="101.1" stroke="#555" stroke-width="0.8"/>
<line x1="287.0" y1="101.1" x2="285.5" y2="101.1" stroke="#555" stroke-width="0.8"/>
<line x1="58.5" y1="96.9" x2="60.0" y2="96.9" stroke="#555" stroke-width="0.8"/>
<line x1="287.0" y1="96.9" x2="285.5" y2="96.9" stroke="#555" stroke-width="0.8"/>
<line x1="58.5" y1="93.9" x2="60.0" y2="93.9" stroke="#555" stroke-width="0.8"/>
<line x1="287.0" y1="93.9" x2="285.5" y2="93.9" stroke="#555" stroke-width="0.8"/>
<line x1="58.5" y1="91.6" x2="60.0" y2="91.6" stroke="#555" stroke-width="0.8"/>
<line x1="287.0" y1="91.6" x2="285.5" y2="91.6" stroke="#555" stroke-width="0.8"/>
<line x1="58.5" y1="89.7" x2="60.0" y2="89.7" stroke="#555" stroke-width="0.8"/>
<line x1="287.0" y1="89.7" x2="285.5" y2="89.7" stroke="#555" stroke-width="0.8"/>
<line x1="58.5" y1="88.1" x2="60.0" y2="88.1" stroke="#555" stroke-width="0.8"/>
<line x1="287.0" y1="88.1" x2="285.5" y2="88.1" stroke="#555" stroke-width="0.8"/>
<line x1="58.5" y1="86.7" x2="60.0" y2="86.7" stroke="#555" stroke-width="0.8"/>
<line x1="287.0" y1="86.7" x2="285.5" y2="86.7" stroke="#555" stroke-width="0.8"/>
<line x1="58.5" y1="85.5" x2="60.0" y2="85.5" stroke="#555" stroke-width="0.8"/>
<line x1="287.0" y1="85.5" x2="285.5" y2="85.5" stroke="#555" stroke-width="0.8"/>
<line x1="57.4" y1="84.4" x2="60.0" y2="84.4" stroke="#333" stroke-width="1"/>
<line x1="287.0" y1="84.4" x2="284.4" y2="84.4" stroke="#333" stroke-width="1"/>
<line x1="58.5" y1="77.2" x2="60.0" y2="77.2" stroke="#555" stroke-width="0.8"/>
<line x1="287.0" y1="77.2" x2="285.5" y2="77.2" stroke="#555" stroke-width="0.8"/>
<line x1="58.5" y1="73.0" x2="60.0" y2="73.0" stroke="#555" stroke-width="0.8"/>
<line x1="287.0" y1="73.0" x2="285.5" y2="73.0" stroke="#555" stroke-width="0.8"/>
<line x1="58.5" y1="70.0" x2="60.0" y2="70.0" stroke="#555" stroke-width="0.8"/>
<line x1="287.0" y1="70.0" x2="285.5" y2="70.0" stroke="#555" stroke-width="0.8"/>
<line x1="58.5" y1="67.7" x2="60.0" y2="67.7" stroke="#555" stroke-width="0.8"/>
<line x1="287.0" y1="67.7" x2="285.5" y2="67.7" stroke="#555" stroke-width="0.8"/>
<line x1="58.5" y1="65.8" x2="60.0" y2="65.8" stroke="#555" stroke-width="0.8"/>
<line x1="287.0" y1="65.8" x2="285.5" y2="65.8" stroke="#555" stroke-width="0.8"/>
<line x1="58.5" y1="64.2" x2="60.0" y2="64.2" stroke="#555" stroke-width="0.8"/>
<line x1="287.0" y1="64.2" x2="285.5" y2="64.2" stroke="#555" stroke-width="0.8"/>
<line x1="58.5" y1="62.8" x2="60.0" y2="62.8" stroke="#555" stroke-width="0.8"/>
<line x1="287.0" y1="62.8" x2="285.5" y2="62.8" stroke="#555" stroke-width="0.8"/>
<line x1="58.5" y1="61.5" x2="60.0" y2="61.5" stroke="#555" stroke-width="0.8"/>
<line x1="287.0" y1="61.5" x2="285.5" y2="61.5" stroke="#555" stroke-width="0.8"/>
<line x1="57.4" y1="60.4" x2="60.0" y2="60.4" stroke="#333" stroke-width="1"/>
<line x1="287.0" y1="60.4" x2="284.4" y2="60.4" stroke="#333" stroke-width="1"/>
<line x1="58.5" y1="53.2" x2="60.0" y2="53.2" stroke="#555" stroke-width="0.8"/>
<line x1="287.0" y1="53.2" x2="285.5" y2="53.2" stroke="#555" stroke-width="0.8"/>
<line x1="58.5" y1="49.0" x2="60.0" y2="49.0" stroke="#555" stroke-width="0.8"/>
<line x1="287.0" y1="49.0" x2="285.5" y2="49.0" stroke="#555" stroke-width="0.8"/>
<line x1="58.5" y1="46.0" x2="60.0" y2="46.0" stroke="#555" stroke-width="0.8"/>
<line x1="287.0" y1="46.0" x2="285.5" y2="46.0" stroke="#555" stroke-width="0.8"/>
<line x1="58.5" y1="43.7" x2="60.0" y2="43.7" stroke="#555" stroke-width="0.8"/>
<line x1="287.0" y1="43.7" x2="285.5" y2="43.7" stroke="#555" stroke-width="0.8"/>
<line x1="58.5" y1="41.8" x2="60.0" y2="41.8" stroke="#555" stroke-width="0.8"/>
<line x1="287.0" y1="41.8" x2="285.5" y2="41.8" stroke="#555" stroke-width="0.8"/>
<line x1="58.5" y1="40.2" x2="60.0" y2="40.2" stroke="#555" stroke-width="0.8"/>
<line x1="287.0" y1="40.2" x2="285.5" y2="40.2" stroke="#555" stroke-width="0.8"/>
<line x1="58.5" y1="38.8" x2="60.0" y2="38.8" stroke="#555" stroke-width="0.8"/>
<line x1="287.0" y1="38.8" x2="285.5" y2="38.8" stroke="#555" stroke-width="0.8"/>
<line x1="58.5" y1="37.6" x2="60.0" y2="37.6" stroke="#555" stroke-width="0.8"/>
<line x1="287.0" y1="37.6" x2="285.5" y2="37.6" stroke="#555" stroke-width="0.8"/>
<line x1="57.4" y1="36.5" x2="60.0" y2="36.5" stroke="#333" stroke-width="1"/>
<line x1="287.0" y1="36.5" x2="284.4" y2="36.5" stroke="#333" stroke-width="1"/>
<line x1="58.5" y1="29.3" x2="60.0" y2="29.3" stroke="#555" stroke-width="0.8"/>
<line x1="287.0" y1="29.3" x2="285.5" y2="29.3" stroke="#555" stroke-width="0.8"/>
<line x1="58.5" y1="25.0" x2="60.0" y2="25.0" stroke="#555" stroke-width="0.8"/>
<line x1="287.0" y1="25.0" x2="285.5" y2="25.0" stroke="#555" stroke-width="0.8"/>
<line x1="304.1" y1="204.2" x2="301.5" y2="204.2" stroke="#333" stroke-width="1"/>
<line x1="529.0" y1="204.2" x2="526.4" y2="204.2" stroke="#333" stroke-width="1"/>
<line x1="303.0" y1="197.0" x2="301.5" y2="197.0" stroke="#555" stroke-width="0.8"/>
<line x1="529.0" y1="197.0" x2="527.5" y2="197.0" stroke="#555" stroke-width="0.8"/>
<line x1="303.0" y1="192.8" x2="301.5" y2="192.8" stroke="#555" stroke-width="0.8"/>
<line x1="529.0" y1="192.8" x2="527.5" y2="192.8" stroke="#555" stroke-width="0.8"/>
<line x1="303.0" y1="189.8" x2="301.5" y2="189.8" stroke="#555" stroke-width="0.8"/>
<line x1="529.0" y1="189.8" x2="527.5" y2="189.8" stroke="#555" stroke-width="0.8"/>
<line x1="303.0" y1="187.5" x2="301.5" y2="187.5" stroke="#555" stroke-width="0.8"/>
<line x1="529.0" y1="187.5" x2="527.5" y2="187.5" stroke="#555" stroke-width="0.8"/>
<line x1="303.0" y1="185.6" x2="301.5" y2="185.6" stroke="#555" stroke-width="0.8"/>
<line x1="529.0" y1="185.6" x2="527.5" y2="185.6" stroke="#555" stroke-width="0.8"/>
<line x1="303.0" y1="184.0" x2="301.5" y2="184.0" stroke="#555" stroke-width="0.8"/>
<line x1="529.0" y1="184.0" x2="527.5" y2="184.0" stroke="#555" stroke-width="0.8"/>
<line x1="303.0" y1="182.6" x2="301.5" y2="182.6" stroke="#555" stroke-width="0.8"/>
<line x1="529.0" y1="182.6" x2="527.5" y2="182.6" stroke="#555" stroke-width="0.8"/>
<line x1="303.0" y1="181.3" x2="301.5" y2="181.3" stroke="#555" stroke-width="0.8"/>
<line x1="529.0" y1="181.3" x2="527.5" y2="181.3" stroke="#555" stroke-width="0.8"/>
<line x1="304.1" y1="180.2" x2="301.5" y2="180.2" stroke="#333" stroke-width="1"/>
<line x1="529.0" y1="180.2" x2="526.4" y2="180.2" stroke="#333" stroke-width="1"/>
<line x1="303.0" y1="173.0" x2="301.5" y2="173.0" stroke="#555" stroke-width="0.8"/>
<line x1="529.0" y1="173.0" x2="527.5" y2="173.0" stroke="#555" stroke-width="0.8"/>
<line x1="303.0" y1="168.8" x2="301.5" y2="168.8" stroke="#555" stroke-width="0.8"/>
<line x1="529.0" y1="168.8" x2="527.5" y2="168.8" stroke="#555" stroke-width="0.8"/>
<line x1="303.0" y1="165.8" x2="301.5" y2="165.8" stroke="#555" stroke-width="0.8"/>
<line x1="529.0" y1="165.8" x2="527.5" y2="165.8" stroke="#555" stroke-width="0.8"/>
<line x1="303.0" y1="163.5" x2="301.5" y2="163.5" stroke="#555" stroke-width="0.8"/>
<line x1="529.0" y1="163.5" x2="527.5" y2="163.5" stroke="#555" stroke-width="0.8"/>
<line x1="303.0" y1="161.6" x2="301.5" y2="161.6" stroke="#555" stroke-width="0.8"/>
<line x1="529.0" y1="161.6" x2="527.5" y2="161.6" stroke="#555" stroke-width="0.8"/>
<line x1="303.0" y1="160.0" x2="301.5" y2="160.0" stroke="#555" stroke-width="0.8"/>
<line x1="529.0" y1="160.0" x2="527.5" y2="160.0" stroke="#555" stroke-width="0.8"/>
<line x1="303.0" y1="158.6" x2="301.5" y2="158.6" stroke="#555" stroke-width="0.8"/>
<line x1="529.0" y1="158.6" x2="527.5" y2="158.6" stroke="#555" stroke-width="0.8"/>
<line x1="303.0" y1="157.4" x2="301.5" y2="157.4" stroke="#555" stroke-width="0.8"/>
<line x1="529.0" y1="157.4" x2="527.5" y2="157.4" stroke="#555" stroke-width="0.8"/>
<line x1="304.1" y1="156.3" x2="301.5" y2="156.3" stroke="#333" stroke-width="1"/>
<line x1="529.0" y1="156.3" x2="526.4" y2="156.3" stroke="#333" stroke-width="1"/>
<line x1="303.0" y1="149.1" x2="301.5" y2="149.1" stroke="#555" stroke-width="0.8"/>
<line x1="529.0" y1="149.1" x2="527.5" y2="149.1" stroke="#555" stroke-width="0.8"/>
<line x1="303.0" y1="144.8" x2="301.5" y2="144.8" stroke="#555" stroke-width="0.8"/>
<line x1="529.0" y1="144.8" x2="527.5" y2="144.8" stroke="#555" stroke-width="0.8"/>
<line x1="303.0" y1="141.9" x2="301.5" y2="141.9" stroke="#555" stroke-width="0.8"/>
<line x1="529.0" y1="141.9" x2="527.5" y2="141.9" stroke="#555" stroke-width="0.8"/>
<line x1="303.0" y1="139.5" x2="301.5" y2="139.5" stroke="#555" stroke-width="0.8"/>
<line x1="529.0" y1="139.5" x2="527.5" y2="139.5" stroke="#555" stroke-width="0.8"/>
<line x1="303.0" y1="137.6" x2="301.5" y2="137.6" stroke="#555" stroke-width="0.8"/>
<line x1="529.0" y1="137.6" x2="527.5" y2="137.6" stroke="#555" stroke-width="0.8"/>
<line x1="303.0" y1="136.0" x2="301.5" y2="136.0" stroke="#555" stroke-width="0.8"/>
<line x1="529.0" y1="136.0" x2="527.5" y2="136.0" stroke="#555" stroke-width="0.8"/>
<line x1="303.0" y1="134.6" x2="301.5" y2="134.6" stroke="#555" stroke-width="0.8"/>
<line x1="529.0" y1="134.6" x2="527.5" y2="134.6" stroke="#555" stroke-width="0.8"/>
<line x1="303.0" y1="133.4" x2="301.5" y2="133.4" stroke="#555" stroke-width="0.8"/>
<line x1="529.0" y1="133.4" x2="527.5" y2="133.4" stroke="#555" stroke-width="0.8"/>
<line x1="304.1" y1="132.3" x2="301.5" y2="132.3" stroke="#333" stroke-width="1"/>
<line x1="529.0" y1="132.3" x2="526.4" y2="132.3" stroke="#333" stroke-width="1"/>
<line x1="303.0" y1="125.1" x2="301.5" y2="125.1" stroke="#555" stroke-width="0.8"/>
<line x1="529.0" y1="125.1" x2="527.5" y2="125.1" stroke="#555" stroke-width="0.8"/>
<line x1="303.0" y1="120.9" x2="301.5" y2="120.9" stroke="#555" stroke-width="0.8"/>
<line x1="529.0" y1="120.9" x2="527.5" y2="120.9" stroke="#555" stroke-width="0.8"/>
<line x1="303.0" y1="117.9" x2="301.5" y2="117.9" stroke="#555" stroke-width="0.8"/>
<line x1="529.0" y1="117.9" x2="527.5" y2="117.9" stroke="#555" stroke-width="0.8"/>
<line x1="303.0" y1="115.6" x2="301.5" y2="115.6" stroke="#555" stroke-width="0.8"/>
<line x1="529.0" y1="115.6" x2="527.5" y2="115.6" stroke="#555" stroke-width="0.8"/>
<line x1="303.0" y1="113.7" x2="301.5" y2="113.7" stroke="#555" stroke-width="0.8"/>
<line x1="529.0" y1="113.7" x2="527.5" y2="113.7" stroke="#555" stroke-width="0.8"/>
<line x1="303.0" y1="112.1" x2="301.5" y2="112.1" stroke="#555" stroke-width="0.8"/>
<line x1="529.0" y1="112.1" x2="527.5" y2="112.1" stroke="#555" stroke-width="0.8"/>
<line x1="303.0" y1="110.7" x2="301.5" y2="110.7" stroke="#555" stroke-width="0.8"/>
<line x1="529.0" y1="110.7" x2="527.5" y2="110.7" stroke="#555" stroke-width="0.8"/>
<line x1="303.0" y1="109.5" x2="301.5" y2="109.5" stroke="#555" stroke-width="0.8"/>
<line x1="529.0" y1="109.5" x2="527.5" y2="109.5" stroke="#555" stroke-width="0.8"/>
<line x1="304.1" y1="108.4" x2="301.5" y2="108.4" stroke="#333" stroke-width="1"/>
<line x1="529.0" y1="108.4" x2="526.4" y2="108.4" stroke="#333" stroke-width="1"/>
<line x1="303.0" y1="101.1" x2="301.5" y2="101.1" stroke="#555" stroke-width="0.8"/>
<line x1="529.0" y1="101.1" x2="527.5" y2="101.1" stroke="#555" stroke-width="0.8"/>
<line x1="303.0" y1="96.9" x2="301.5" y2="96.9" stroke="#555" stroke-width="0.8"/>
<line x1="529.0" y1="96.9" x2="527.5" y2="96.9" stroke="#555" stroke-width="0.8"/>
<line x1="303.0" y1="93.9" x2="301.5" y2="93.9" stroke="#555" stroke-width="0.8"/>
<line x1="529.0" y1="93.9" x2="527.5" y2="93.9" stroke="#555" stroke-width="0.8"/>
<line x1="303.0" y1="91.6" x2="301.5" y2="91.6" stroke="#555" stroke-width="0.8"/>
<line x1="529.0" y1="91.6" x2="527.5" y2="91.6" stroke="#555" stroke-width="0.8"/>
<line x1="303.0" y1="89.7" x2="301.5" y2="89.7" stroke="#555" stroke-width="0.8"/>
<line x1="529.0" y1="89.7" x2="527.5" y2="89.7" stroke="#555" stroke-width="0.8"/>
<line x1="303.0" y1="88.1" x2="301.5" y2="88.1" stroke="#555" stroke-width="0.8"/>
<line x1="529.0" y1="88.1" x2="527.5" y2="88.1" stroke="#555" stroke-width="0.8"/>
<line x1="303.0" y1="86.7" x2="301.5" y2="86.7" stroke="#555" stroke-width="0.8"/>
<line x1="529.0" y1="86.7" x2="527.5" y2="86.7" stroke="#555" stroke-width="0.8"/>
<line x1="303.0" y1="85.5" x2="301.5" y2="85.5" stroke="#555" stroke-width="0.8"/>
<line x1="529.0" y1="85.5" x2="527.5" y2="85.5" stroke="#555" stroke-width="0.8"/>
<line x1="304.1" y1="84.4" x2="301.5" y2="84.4" stroke="#333" stroke-width="1"/>
<line x1="529.0" y1="84.4" x2="526.4" y2="84.4" stroke="#333" stroke-width="1"/>
<line x1="303.0" y1="77.2" x2="301.5" y2="77.2" stroke="#555" stroke-width="0.8"/>
<line x1="529.0" y1="77.2" x2="527.5" y2="77.2" stroke="#555" stroke-width="0.8"/>
<line x1="303.0" y1="73.0" x2="301.5" y2="73.0" stroke="#555" stroke-width="0.8"/>
<line x1="529.0" y1="73.0" x2="527.5" y2="73.0" stroke="#555" stroke-width="0.8"/>
<line x1="303.0" y1="70.0" x2="301.5" y2="70.0" stroke="#555" stroke-width="0.8"/>
<line x1="529.0" y1="70.0" x2="527.5" y2="70.0" stroke="#555" stroke-width="0.8"/>
<line x1="303.0" y1="67.7" x2="301.5" y2="67.7" stroke="#555" stroke-width="0.8"/>
<line x1="529.0" y1="67.7" x2="527.5" y2="67.7" stroke="#555" stroke-width="0.8"/>
<line x1="303.0" y1="65.8" x2="301.5" y2="65.8" stroke="#555" stroke-width="0.8"/>
<line x1="529.0" y1="65.8" x2="527.5" y2="65.8" stroke="#555" stroke-width="0.8"/>
<line x1="303.0" y1="64.2" x2="301.5" y2="64.2" stroke="#555" stroke-width="0.8"/>
<line x1="529.0" y1="64.2" x2="527.5" y2="64.2" stroke="#555" stroke-width="0.8"/>
<line x1="303.0" y1="62.8" x2="301.5" y2="62.8" stroke="#555" stroke-width="0.8"/>
<line x1="529.0" y1="62.8" x2="527.5" y2="62.8" stroke="#555" stroke-width="0.8"/>
<line x1="303.0" y1="61.5" x2="301.5" y2="61.5" stroke="#555" stroke-width="0.8"/>
<line x1="529.0" y1="61.5" x2="527.5" y2="61.5" stroke="#555" stroke-width="0.8"/>
<line x1="304.1" y1="60.4" x2="301.5" y2="60.4" stroke="#333" stroke-width="1"/>
<line x1="529.0" y1="60.4" x2="526.4" y2="60.4" stroke="#333" stroke-width="1"/>
<line x1="303.0" y1="53.2" x2="301.5" y2="53.2" stroke="#555" stroke-width="0.8"/>
<line x1="529.0" y1="53.2" x2="527.5" y2="53.2" stroke="#555" stroke-width="0.8"/>
<line x1="303.0" y1="49.0" x2="301.5" y2="49.0" stroke="#555" stroke-width="0.8"/>
<line x1="529.0" y1="49.0" x2="527.5" y2="49.0" stroke="#555" stroke-width="0.8"/>
<line x1="303.0" y1="46.0" x2="301.5" y2="46.0" stroke="#555" stroke-width="0.8"/>
<line x1="529.0" y1="46.0" x2="527.5" y2="46.0" stroke="#555" stroke-width="0.8"/>
<line x1="303.0" y1="43.7" x2="301.5" y2="43.7" stroke="#555" stroke-width="0.8"/>
<line x1="529.0" y1="43.7" x2="527.5" y2="43.7" stroke="#555" stroke-width="0.8"/>
<line x1="303.0" y1="41.8" x2="301.5" y2="41.8" stroke="#555" stroke-width="0.8"/>
<line x1="529.0" y1="41.8" x2="527.5" y2="41.8" stroke="#555" stroke-width="0.8"/>
<line x1="303.0" y1="40.2" x2="301.5" y2="40.2" stroke="#555" stroke-width="0.8"/>
<line x1="529.0" y1="40.2" x2="527.5" y2="40.2" stroke="#555" stroke-width="0.8"/>
<line x1="303.0" y1="38.8" x2="301.5" y2="38.8" stroke="#555" stroke-width="0.8"/>
<line x1="529.0" y1="38.8" x2="527.5" y2="38.8" stroke="#555" stroke-width="0.8"/>
<line x1="303.0" y1="37.6" x2="301.5" y2="37.6" stroke="#555" stroke-width="0.8"/>
<line x1="529.0" y1="37.6" x2="527.5" y2="37.6" stroke="#555" stroke-width="0.8"/>
<line x1="304.1" y1="36.5" x2="301.5" y2="36.5" stroke="#333" stroke-width="1"/>
<line x1="529.0" y1="36.5" x2="526.4" y2="36.5" stroke="#333" stroke-width="1"/>
<line x1="303.0" y1="29.3" x2="301.5" y2="29.3" stroke="#555" stroke-width="0.8"/>
<line x1="529.0" y1="29.3" x2="527.5" y2="29.3" stroke="#555" stroke-width="0.8"/>
<line x1="303.0" y1="25.0" x2="301.5" y2="25.0" stroke="#555" stroke-width="0.8"/>
<line x1="529.0" y1="25.0" x2="527.5" y2="25.0" stroke="#555" stroke-width="0.8"/>
<line x1="48.4" y1="453.2" x2="51.0" y2="453.2" stroke="#333" stroke-width="1"/>
<line x1="273.0" y1="453.2" x2="270.4" y2="453.2" stroke="#333" stroke-width="1"/>
<line x1="49.5" y1="444.2" x2="51.0" y2="444.2" stroke="#555" stroke-width="0.8"/>
<line x1="273.0" y1="444.2" x2="271.5" y2="444.2" stroke="#555" stroke-width="0.8"/>
<line x1="49.5" y1="438.9" x2="51.0" y2="438.9" stroke="#555" stroke-width="0.8"/>
<line x1="273.0" y1="438.9" x2="271.5" y2="438.9" stroke="#555" stroke-width="0.8"/>
<line x1="49.5" y1="435.2" x2="51.0" y2="435.2" stroke="#555" stroke-width="0.8"/>
<line x1="273.0" y1="435.2" x2="271.5" y2="435.2" stroke="#555" stroke-width="0.8"/>
<line x1="49.5" y1="432.3" x2="51.0" y2="432.3" stroke="#555" stroke-width="0.8"/>
<line x1="273.0" y1="432.3" x2="271.5" y2="432.3" stroke="#555" stroke-width="0.8"/>
<line x1="49.5" y1="429.9" x2="51.0" y2="429.9" stroke="#555" stroke-width="0.8"/>
<line x1="273.0" y1="429.9" x2="271.5" y2="429.9" stroke="#555" stroke-width="0.8"/>
<line x1="49.5" y1="427.9" x2="51.0" y2="427.9" stroke="#555" stroke-width="0.8"/>
<line x1="273.0" y1="427.9" x2="271.5" y2="427.9" stroke="#555" stroke-width="0.8"/>
<line x1="49.5" y1="426.2" x2="51.0" y2="426.2" stroke="#555" stroke-width="0.8"/>
<line x1="273.0" y1="426.2" x2="271.5" y2="426.2" stroke="#555" stroke-width="0.8"/>
<line x1="49.5" y1="424.7" x2="51.0" y2="424.7" stroke="#555" stroke-width="0.8"/>
<line x1="273.0" y1="424.7" x2="271.5" y2="424.7" stroke="#555" stroke-width="0.8"/>
<line x1="48.4" y1="423.3" x2="51.0" y2="423.3" stroke="#333" stroke-width="1"/>
<line x1="273.0" y1="423.3" x2="270.4" y2="423.3" stroke="#333" stroke-width="1"/>
<line x1="49.5" y1="414.3" x2="51.0" y2="414.3" stroke="#555" stroke-width="0.8"/>
<line x1="273.0" y1="414.3" x2="271.5" y2="414.3" stroke="#555" stroke-width="0.8"/>
<line x1="49.5" y1="409.0" x2="51.0" y2="409.0" stroke="#555" stroke-width="0.8"/>
<line x1="273.0" y1="409.0" x2="271.5" y2="409.0" stroke="#555" stroke-width="0.8"/>
<line x1="49.5" y1="405.3" x2="51.0" y2="405.3" stroke="#555" stroke-width="0.8"/>
<line x1="273.0" y1="405.3" x2="271.5" y2="405.3" stroke="#555" stroke-width="0.8"/>
<line x1="49.5" y1="402.4" x2="51.0" y2="402.4" stroke="#555" stroke-width="0.8"/>
<line x1="273.0" y1="402.4" x2="271.5" y2="402.4" stroke="#555" stroke-width="0.8"/>
<line x1="49.5" y1="400.0" x2="51.0" y2="400.0" stroke="#555" stroke-width="0.8"/>
<line x1="273.0" y1="400.0" x2="271.5" y2="400.0" stroke="#555" stroke-width="0.8"/>
<line x1="49.5" y1="398.0" x2="51.0" y2="398.0" stroke="#555" stroke-width="0.8"/>
<line x1="273.0" y1="398.0" x2="271.5" y2="398.0" stroke="#555" stroke-width="0.8"/>
<line x1="49.5" y1="396.3" x2="51.0" y2="396.3" stroke="#555" stroke-width="0.8"/>
<line x1="273.0" y1="396.3" x2="271.5" y2="396.3" stroke="#555" stroke-width="0.8"/>
<line x1="49.5" y1="394.8" x2="51.0" y2="394.8" stroke="#555" stroke-width="0.8"/>
<line x1="273.0" y1="394.8" x2="271.5" y2="394.8" stroke="#555" stroke-width="0.8"/>
<line x1="48.4" y1="393.4" x2="51.0" y2="393.4" stroke="#333" stroke-width="1"/>
<line x1="273.0" y1="393.4" x2="270.4" y2="393.4" stroke="#333" stroke-width="1"/>
<line x1="49.5" y1="384.4" x2="51.0" y2="384.4" stroke="#555" stroke-width="0.8"/>
<line x1="273.0" y1="384.4" x2="271.5" y2="384.4" stroke="#555" stroke-width="0.8"/>
<line x1="49.5" y1="379.1" x2="51.0" y2="379.1" stroke="#555" stroke-width="0.8"/>
<line x1="273.0" y1="379.1" x2="271.5" y2="379.1" stroke="#555" stroke-width="0.8"/>
<line x1="49.5" y1="375.4" x2="51.0" y2="375.4" stroke="#555" stroke-width="0.8"/>
<line x1="273.0" y1="375.4" x2="271.5" y2="375.4" stroke="#555" stroke-width="0.8"/>
<line x1="49.5" y1="372.5" x2="51.0" y2="372.5" stroke="#555" stroke-width="0.8"/>
<line x1="273.0" y1="372.5" x2="271.5" y2="372.5" stroke="#555" stroke-width="0.8"/>
<line x1="49.5" y1="370.1" x2="51.0" y2="370.1" stroke="#555" stroke-width="0.8"/>
<line x1="273.0" y1="370.1" x2="271.5" y2="370.1" stroke="#555" stroke-width="0.8"/>
<line x1="49.5" y1="368.1" x2="51.0" y2="368.1" stroke="#555" stroke-width="0.8"/>
<line x1="273.0" y1="368.1" x2="271.5" y2="368.1" stroke="#555" stroke-width="0.8"/>
<line x1="49.5" y1="366.4" x2="51.0" y2="366.4" stroke="#555" stroke-width="0.8"/>
<line x1="273.0" y1="366.4" x2="271.5" y2="366.4" stroke="#555" stroke-width="0.8"/>
<line x1="49.5" y1="364.9" x2="51.0" y2="364.9" stroke="#555" stroke-width="0.8"/>
<line x1="273.0" y1="364.9" x2="271.5" y2="364.9" stroke="#555" stroke-width="0.8"/>
<line x1="48.4" y1="363.5" x2="51.0" y2="363.5" stroke="#333" stroke-width="1"/>
<line x1="273.0" y1="363.5" x2="270.4" y2="363.5" stroke="#333" stroke-width="1"/>
<line x1="49.5" y1="354.5" x2="51.0" y2="354.5" stroke="#555" stroke-width="0.8"/>
<line x1="273.0" y1="354.5" x2="271.5" y2="354.5" stroke="#555" stroke-width="0.8"/>
<line x1="49.5" y1="349.2" x2="51.0" y2="349.2" stroke="#555" stroke-width="0.8"/>
<line x1="273.0" y1="349.2" x2="271.5" y2="349.2" stroke="#555" stroke-width="0.8"/>
<line x1="49.5" y1="345.5" x2="51.0" y2="345.5" stroke="#555" stroke-width="0.8"/>
<line x1="273.0" y1="345.5" x2="271.5" y2="345.5" stroke="#555" stroke-width="0.8"/>
<line x1="49.5" y1="342.6" x2="51.0" y2="342.6" stroke="#555" stroke-width="0.8"/>
<line x1="273.0" y1="342.6" x2="271.5" y2="342.6" stroke="#555" stroke-width="0.8"/>
<line x1="49.5" y1="340.2" x2="51.0" y2="340.2" stroke="#555" stroke-width="0.8"/>
<line x1="273.0" y1="340.2" x2="271.5" y2="340.2" stroke="#555" stroke-width="0.8"/>
<line x1="49.5" y1="338.2" x2="51.0" y2="338.2" stroke="#555" stroke-width="0.8"/>
<line x1="273.0" y1="338.2" x2="271.5" y2="338.2" stroke="#555" stroke-width="0.8"/>
<line x1="49.5" y1="336.5" x2="51.0" y2="336.5" stroke="#555" stroke-width="0.8"/>
<line x1="273.0" y1="336.5" x2="271.5" y2="336.5" stroke="#555" stroke-width="0.8"/>
<line x1="49.5" y1="335.0" x2="51.0" y2="335.0" stroke="#555" stroke-width="0.8"/>
<line x1="273.0" y1="335.0" x2="271.5" y2="335.0" stroke="#555" stroke-width="0.8"/>
<line x1="48.4" y1="333.6" x2="51.0" y2="333.6" stroke="#333" stroke-width="1"/>
<line x1="273.0" y1="333.6" x2="270.4" y2="333.6" stroke="#333" stroke-width="1"/>
<line x1="49.5" y1="324.6" x2="51.0" y2="324.6" stroke="#555" stroke-width="0.8"/>
<line x1="273.0" y1="324.6" x2="271.5" y2="324.6" stroke="#555" stroke-width="0.8"/>
<line x1="49.5" y1="319.3" x2="51.0" y2="319.3" stroke="#555" stroke-width="0.8"/>
<line x1="273.0" y1="319.3" x2="271.5" y2="319.3" stroke="#555" stroke-width="0.8"/>
<line x1="49.5" y1="315.6" x2="51.0" y2="315.6" stroke="#555" stroke-width="0.8"/>
<line x1="273.0" y1="315.6" x2="271.5" y2="315.6" stroke="#555" stroke-width="0.8"/>
<line x1="49.5" y1="312.7" x2="51.0" y2="312.7" stroke="#555" stroke-width="0.8"/>
<line x1="273.0" y1="312.7" x2="271.5" y2="312.7" stroke="#555" stroke-width="0.8"/>
<line x1="49.5" y1="310.3" x2="51.0" y2="310.3" stroke="#555" stroke-width="0.8"/>
<line x1="273.0" y1="310.3" x2="271.5" y2="310.3" stroke="#555" stroke-width="0.8"/>
<line x1="49.5" y1="308.3" x2="51.0" y2="308.3" stroke="#555" stroke-width="0.8"/>
<line x1="273.0" y1="308.3" x2="271.5" y2="308.3" stroke="#555" stroke-width="0.8"/>
<line x1="49.5" y1="306.6" x2="51.0" y2="306.6" stroke="#555" stroke-width="0.8"/>
<line x1="273.0" y1="306.6" x2="271.5" y2="306.6" stroke="#555" stroke-width="0.8"/>
<line x1="49.5" y1="305.1" x2="51.0" y2="305.1" stroke="#555" stroke-width="0.8"/>
<line x1="273.0" y1="305.1" x2="271.5" y2="305.1" stroke="#555" stroke-width="0.8"/>
<line x1="48.4" y1="303.7" x2="51.0" y2="303.7" stroke="#333" stroke-width="1"/>
<line x1="273.0" y1="303.7" x2="270.4" y2="303.7" stroke="#333" stroke-width="1"/>
<line x1="49.5" y1="294.7" x2="51.0" y2="294.7" stroke="#555" stroke-width="0.8"/>
<line x1="273.0" y1="294.7" x2="271.5" y2="294.7" stroke="#555" stroke-width="0.8"/>
<line x1="49.5" y1="289.4" x2="51.0" y2="289.4" stroke="#555" stroke-width="0.8"/>
<line x1="273.0" y1="289.4" x2="271.5" y2="289.4" stroke="#555" stroke-width="0.8"/>
<line x1="49.5" y1="285.7" x2="51.0" y2="285.7" stroke="#555" stroke-width="0.8"/>
<line x1="273.0" y1="285.7" x2="271.5" y2="285.7" stroke="#555" stroke-width="0.8"/>
<line x1="49.5" y1="282.8" x2="51.0" y2="282.8" stroke="#555" stroke-width="0.8"/>
<line x1="273.0" y1="282.8" x2="271.5" y2="282.8" stroke="#555" stroke-width="0.8"/>
<line x1="49.5" y1="280.4" x2="51.0" y2="280.4" stroke="#555" stroke-width="0.8"/>
<line x1="273.0" y1="280.4" x2="271.5" y2="280.4" stroke="#555" stroke-width="0.8"/>
<line x1="49.5" y1="278.4" x2="51.0" y2="278.4" stroke="#555" stroke-width="0.8"/>
<line x1="273.0" y1="278.4" x2="271.5" y2="278.4" stroke="#555" stroke-width="0.8"/>
<line x1="49.5" y1="276.7" x2="51.0" y2="276.7" stroke="#555" stroke-width="0.8"/>
<line x1="273.0" y1="276.7" x2="271.5" y2="276.7" stroke="#555" stroke-width="0.8"/>
<line x1="49.5" y1="275.2" x2="51.0" y2="275.2" stroke="#555" stroke-width="0.8"/>
<line x1="273.0" y1="275.2" x2="271.5" y2="275.2" stroke="#555" stroke-width="0.8"/>
<line x1="48.4" y1="273.8" x2="51.0" y2="273.8" stroke="#333" stroke-width="1"/>
<line x1="273.0" y1="273.8" x2="270.4" y2="273.8" stroke="#333" stroke-width="1"/>
<line x1="49.5" y1="264.8" x2="51.0" y2="264.8" stroke="#555" stroke-width="0.8"/>
<line x1="273.0" y1="264.8" x2="271.5" y2="264.8" stroke="#555" stroke-width="0.8"/>
<line x1="49.5" y1="259.5" x2="51.0" y2="259.5" stroke="#555" stroke-width="0.8"/>
<line x1="273.0" y1="259.5" x2="271.5" y2="259.5" stroke="#555" stroke-width="0.8"/>
<line x1="307.6" y1="453.2" x2="305.0" y2="453.2" stroke="#333" stroke-width="1"/>
<line x1="527.7" y1="453.2" x2="525.1" y2="453.2" stroke="#333" stroke-width="1"/>
<line x1="306.5" y1="444.2" x2="305.0" y2="444.2" stroke="#555" stroke-width="0.8"/>
<line x1="527.7" y1="444.2" x2="526.2" y2="444.2" stroke="#555" stroke-width="0.8"/>
<line x1="306.5" y1="438.9" x2="305.0" y2="438.9" stroke="#555" stroke-width="0.8"/>
<line x1="527.7" y1="438.9" x2="526.2" y2="438.9" stroke="#555" stroke-width="0.8"/>
<line x1="306.5" y1="435.2" x2="305.0" y2="435.2" stroke="#555" stroke-width="0.8"/>
<line x1="527.7" y1="435.2" x2="526.2" y2="435.2" stroke="#555" stroke-width="0.8"/>
<line x1="306.5" y1="432.3" x2="305.0" y2="432.3" stroke="#555" stroke-width="0.8"/>
<line x1="527.7" y1="432.3" x2="526.2" y2="432.3" stroke="#555" stroke-width="0.8"/>
<line x1="306.5" y1="429.9" x2="305.0" y2="429.9" stroke="#555" stroke-width="0.8"/>
<line x1="527.7" y1="429.9" x2="526.2" y2="429.9" stroke="#555" stroke-width="0.8"/>
<line x1="306.5" y1="427.9" x2="305.0" y2="427.9" stroke="#555" stroke-width="0.8"/>
<line x1="527.7" y1="427.9" x2="526.2" y2="427.9" stroke="#555" stroke-width="0.8"/>
<line x1="306.5" y1="426.2" x2="305.0" y2="426.2" stroke="#555" stroke-width="0.8"/>
<line x1="527.7" y1="426.2" x2="526.2" y2="426.2" stroke="#555" stroke-width="0.8"/>
<line x1="306.5" y1="424.7" x2="305.0" y2="424.7" stroke="#555" stroke-width="0.8"/>
<line x1="527.7" y1="424.7" x2="526.2" y2="424.7" stroke="#555" stroke-width="0.8"/>
<line x1="307.6" y1="423.3" x2="305.0" y2="423.3" stroke="#333" stroke-width="1"/>
<line x1="527.7" y1="423.3" x2="525.1" y2="423.3" stroke="#333" stroke-width="1"/>
<line x1="306.5" y1="414.3" x2="305.0" y2="414.3" stroke="#555" stroke-width="0.8"/>
<line x1="527.7" y1="414.3" x2="526.2" y2="414.3" stroke="#555" stroke-width="0.8"/>
<line x1="306.5" y1="409.0" x2="305.0" y2="409.0" stroke="#555" stroke-width="0.8"/>
<line x1="527.7" y1="409.0" x2="526.2" y2="409.0" stroke="#555" stroke-width="0.8"/>
<line x1="306.5" y1="405.3" x2="305.0" y2="405.3" stroke="#555" stroke-width="0.8"/>
<line x1="527.7" y1="405.3" x2="526.2" y2="405.3" stroke="#555" stroke-width="0.8"/>
<line x1="306.5" y1="402.4" x2="305.0" y2="402.4" stroke="#555" stroke-width="0.8"/>
<line x1="527.7" y1="402.4" x2="526.2" y2="402.4" stroke="#555" stroke-width="0.8"/>
<line x1="306.5" y1="400.0" x2="305.0" y2="400.0" stroke="#555" stroke-width="0.8"/>
<line x1="527.7" y1="400.0" x2="526.2" y2="400.0" stroke="#555" stroke-width="0.8"/>
<line x1="306.5" y1="398.0" x2="305.0" y2="398.0" stroke="#555" stroke-width="0.8"/>
<line x1="527.7" y1="398.0" x2="526.2" y2="398.0" stroke="#555" stroke-width="0.8"/>
<line x1="306.5" y1="396.3" x2="305.0" y2="396.3" stroke="#555" stroke-width="0.8"/>
<line x1="527.7" y1="396.3" x2="526.2" y2="396.3" stroke="#555" stroke-width="0.8"/>
<line x1="306.5" y1="394.8" x2="305.0" y2="394.8" stroke="#555" stroke-width="0.8"/>
<line x1="527.7" y1="394.8" x2="526.2" y2="394.8" stroke="#555" stroke-width="0.8"/>
<line x1="307.6" y1="393.4" x2="305.0" y2="393.4" stroke="#333" stroke-width="1"/>
<line x1="527.7" y1="393.4" x2="525.1" y2="393.4" stroke="#333" stroke-width="1"/>
<line x1="306.5" y1="384.4" x2="305.0" y2="384.4" stroke="#555" stroke-width="0.8"/>
<line x1="527.7" y1="384.4" x2="526.2" y2="384.4" stroke="#555" stroke-width="0.8"/>
<line x1="306.5" y1="379.1" x2="305.0" y2="379.1" stroke="#555" stroke-width="0.8"/>
<line x1="527.7" y1="379.1" x2="526.2" y2="379.1" stroke="#555" stroke-width="0.8"/>
<line x1="306.5" y1="375.4" x2="305.0" y2="375.4" stroke="#555" stroke-width="0.8"/>
<line x1="527.7" y1="375.4" x2="526.2" y2="375.4" stroke="#555" stroke-width="0.8"/>
<line x1="306.5" y1="372.5" x2="305.0" y2="372.5" stroke="#555" stroke-width="0.8"/>
<line x1="527.7" y1="372.5" x2="526.2" y2="372.5" stroke="#555" stroke-width="0.8"/>
<line x1="306.5" y1="370.1" x2="305.0" y2="370.1" stroke="#555" stroke-width="0.8"/>
<line x1="527.7" y1="370.1" x2="526.2" y2="370.1" stroke="#555" stroke-width="0.8"/>
<line x1="306.5" y1="368.1" x2="305.0" y2="368.1" stroke="#555" stroke-width="0.8"/>
<line x1="527.7" y1="368.1" x2="526.2" y2="368.1" stroke="#555" stroke-width="0.8"/>
<line x1="306.5" y1="366.4" x2="305.0" y2="366.4" stroke="#555" stroke-width="0.8"/>
<line x1="527.7" y1="366.4" x2="526.2" y2="366.4" stroke="#555" stroke-width="0.8"/>
<line x1="306.5" y1="364.9" x2="305.0" y2="364.9" stroke="#555" stroke-width="0.8"/>
<line x1="527.7" y1="364.9" x2="526.2" y2="364.9" stroke="#555" stroke-width="0.8"/>
<line x1="307.6" y1="363.5" x2="305.0" y2="363.5" stroke="#333" stroke-width="1"/>
<line x1="527.7" y1="363.5" x2="525.1" y2="363.5" stroke="#333" stroke-width="1"/>
<line x1="306.5" y1="354.5" x2="305.0" y2="354.5" stroke="#555" stroke-width="0.8"/>
<line x1="527.7" y1="354.5" x2="526.2" y2="354.5" stroke="#555" stroke-width="0.8"/>
<line x1="306.5" y1="349.2" x2="305.0" y2="349.2" stroke="#555" stroke-width="0.8"/>
<line x1="527.7" y1="349.2" x2="526.2" y2="349.2" stroke="#555" stroke-width="0.8"/>
<line x1="306.5" y1="345.5" x2="305.0" y2="345.5" stroke="#555" stroke-width="0.8"/>
<line x1="527.7" y1="345.5" x2="526.2" y2="345.5" stroke="#555" stroke-width="0.8"/>
<line x1="306.5" y1="342.6" x2="305.0" y2="342.6" stroke="#555" stroke-width="0.8"/>
<line x1="527.7" y1="342.6" x2="526.2" y2="342.6" stroke="#555" stroke-width="0.8"/>
<line x1="306.5" y1="340.2" x2="305.0" y2="340.2" stroke="#555" stroke-width="0.8"/>
<line x1="527.7" y1="340.2" x2="526.2" y2="340.2" stroke="#555" stroke-width="0.8"/>
<line x1="306.5" y1="338.2" x2="305.0" y2="338.2" stroke="#555" stroke-width="0.8"/>
<line x1="527.7" y1="338.2" x2="526.2" y2="338.2" stroke="#555" stroke-width="0.8"/>
<line x1="306.5" y1="336.5" x2="305.0" y2="336.5" stroke="#555" stroke-width="0.8"/>
<line x1="527.7" y1="336.5" x2="526.2" y2="336.5" stroke="#555" stroke-width="0.8"/>
<line x1="306.5" y1="335.0" x2="305.0" y2="335.0" stroke="#555" stroke-width="0.8"/>
<line x1="527.7" y1="335.0" x2="526.2" y2="335.0" stroke="#555" stroke-width="0.8"/>
<line x1="307.6" y1="333.6" x2="305.0" y2="333.6" stroke="#333" stroke-width="1"/>
<line x1="527.7" y1="333.6" x2="525.1" y2="333.6" stroke="#333" stroke-width="1"/>
<line x1="306.5" y1="324.6" x2="305.0" y2="324.6" stroke="#555" stroke-width="0.8"/>
<line x1="527.7" y1="324.6" x2="526.2" y2="324.6" stroke="#555" stroke-width="0.8"/>
<line x1="306.5" y1="319.3" x2="305.0" y2="319.3" stroke="#555" stroke-width="0.8"/>
<line x1="527.7" y1="319.3" x2="526.2" y2="319.3" stroke="#555" stroke-width="0.8"/>
<line x1="306.5" y1="315.6" x2="305.0" y2="315.6" stroke="#555" stroke-width="0.8"/>
<line x1="527.7" y1="315.6" x2="526.2" y2="315.6" stroke="#555" stroke-width="0.8"/>
<line x1="306.5" y1="312.7" x2="305.0" y2="312.7" stroke="#555" stroke-width="0.8"/>
<line x1="527.7" y1="312.7" x2="526.2" y2="312.7" stroke="#555" stroke-width="0.8"/>
<line x1="306.5" y1="310.3" x2="305.0" y2="310.3" stroke="#555" stroke-width="0.8"/>
<line x1="527.7" y1="310.3" x2="526.2" y2="310.3" stroke="#555" stroke-width="0.8"/>
<line x1="306.5" y1="308.3" x2="305.0" y2="308.3" stroke="#555" stroke-width="0.8"/>
<line x1="527.7" y1="308.3" x2="526.2" y2="308.3" stroke="#555" stroke-width="0.8"/>
<line x1="306.5" y1="306.6" x2="305.0" y2="306.6" stroke="#555" stroke-width="0.8"/>
<line x1="527.7" y1="306.6" x2="526.2" y2="306.6" stroke="#555" stroke-width="0.8"/>
<line x1="306.5" y1="305.1" x2="305.0" y2="305.1" stroke="#555" stroke-width="0.8"/>
<line x1="527.7" y1="305.1" x2="526.2" y2="305.1" stroke="#555" stroke-width="0.8"/>
<line x1="307.6" y1="303.7" x2="305.0" y2="303.7" stroke="#333" stroke-width="1"/>
<line x1="527.7" y1="303.7" x2="525.1" y2="303.7" stroke="#333" stroke-width="1"/>
<line x1="306.5" y1="294.7" x2="305.0" y2="294.7" stroke="#555" stroke-width="0.8"/>
<line x1="527.7" y1="294.7" x2="526.2" y2="294.7" stroke="#555" stroke-width="0.8"/>
<line x1="306.5" y1="289.4" x2="305.0" y2="289.4" stroke="#555" stroke-width="0.8"/>
<line x1="527.7" y1="289.4" x2="526.2" y2="289.4" stroke="#555" stroke-width="0.8"/>
<line x1="306.5" y1="285.7" x2="305.0" y2="285.7" stroke="#555" stroke-width="0.8"/>
<line x1="527.7" y1="285.7" x2="526.2" y2="285.7" stroke="#555" stroke-width="0.8"/>
<line x1="306.5" y1="282.8" x2="305.0" y2="282.8" stroke="#555" stroke-width="0.8"/>
<line x1="527.7" y1="282.8" x2="526.2" y2="282.8" stroke="#555" stroke-width="0.8"/>
<line x1="306.5" y1="280.4" x2="305.0" y2="280.4" stroke="#555" stroke-width="0.8"/>
<line x1="527.7" y1="280.4" x2="526.2" y2="280.4" stroke="#555" stroke-width="0.8"/>
<line x1="306.5" y1="278.4" x2="305.0" y2="278.4" stroke="#555" stroke-width="0.8"/>
<line x1="527.7" y1="278.4" x2="526.2" y2="278.4" stroke="#555" stroke-width="0.8"/>
<line x1="306.5" y1="276.7" x2="305.0" y2="276.7" stroke="#555" stroke-width="0.8"/>
<line x1="527.7" y1="276.7" x2="526.2" y2="276.7" stroke="#555" stroke-width="0.8"/>
<line x1="306.5" y1="275.2" x2="305.0" y2="275.2" stroke="#555" stroke-width="0.8"/>
<line x1="527.7" y1="275.2" x2="526.2" y2="275.2" stroke="#555" stroke-width="0.8"/>
<line x1="307.6" y1="273.8" x2="305.0" y2="273.8" stroke="#333" stroke-width="1"/>
<line x1="527.7" y1="273.8" x2="525.1" y2="273.8" stroke="#333" stroke-width="1"/>
<line x1="306.5" y1="264.8" x2="305.0" y2="264.8" stroke="#555" stroke-width="0.8"/>
<line x1="527.7" y1="264.8" x2="526.2" y2="264.8" stroke="#555" stroke-width="0.8"/>
<line x1="306.5" y1="259.5" x2="305.0" y2="259.5" stroke="#555" stroke-width="0.8"/>
<line x1="527.7" y1="259.5" x2="526.2" y2="259.5" stroke="#555" stroke-width="0.8"/>
<line x1="60.0" y1="204.2" x2="60.0" y2="206.7" stroke="#333" stroke-width="1"/>
<line x1="60.0" y1="24.8" x2="60.0" y2="27.3" stroke="#333" stroke-width="1"/>
<line x1="122.0" y1="204.2" x2="122.0" y2="206.7" stroke="#333" stroke-width="1"/>
<line x1="122.0" y1="24.8" x2="122.0" y2="27.3" stroke="#333" stroke-width="1"/>
<line x1="184.0" y1="204.2" x2="184.0" y2="206.7" stroke="#333" stroke-width="1"/>
<line x1="184.0" y1="24.8" x2="184.0" y2="27.3" stroke="#333" stroke-width="1"/>
<line x1="246.0" y1="204.2" x2="246.0" y2="206.7" stroke="#333" stroke-width="1"/>
<line x1="246.0" y1="24.8" x2="246.0" y2="27.3" stroke="#333" stroke-width="1"/>
<line x1="301.5" y1="204.2" x2="301.5" y2="206.7" stroke="#333" stroke-width="1"/>
<line x1="301.5" y1="24.8" x2="301.5" y2="27.3" stroke="#333" stroke-width="1"/>
<line x1="363.5" y1="204.2" x2="363.5" y2="206.7" stroke="#333" stroke-width="1"/>
<line x1="363.5" y1="24.8" x2="363.5" y2="27.3" stroke="#333" stroke-width="1"/>
<line x1="425.5" y1="204.2" x2="425.5" y2="206.7" stroke="#333" stroke-width="1"/>
<line x1="425.5" y1="24.8" x2="425.5" y2="27.3" stroke="#333" stroke-width="1"/>
<line x1="487.5" y1="204.2" x2="487.5" y2="206.7" stroke="#333" stroke-width="1"/>
<line x1="487.5" y1="24.8" x2="487.5" y2="27.3" stroke="#333" stroke-width="1"/>
<line x1="60.8" y1="453.2" x2="60.8" y2="454.8" stroke="#444" stroke-width="0.9"/>
<line x1="60.8" y1="259.5" x2="60.8" y2="261.1" stroke="#444" stroke-width="0.9"/>
<line x1="74.6" y1="453.2" x2="74.6" y2="454.8" stroke="#444" stroke-width="0.9"/>
<line x1="74.6" y1="259.5" x2="74.6" y2="261.1" stroke="#444" stroke-width="0.9"/>
<line x1="84.4" y1="453.2" x2="84.4" y2="454.8" stroke="#444" stroke-width="0.9"/>
<line x1="84.4" y1="259.5" x2="84.4" y2="261.1" stroke="#444" stroke-width="0.9"/>
<line x1="92.0" y1="453.2" x2="92.0" y2="454.8" stroke="#444" stroke-width="0.9"/>
<line x1="92.0" y1="259.5" x2="92.0" y2="261.1" stroke="#444" stroke-width="0.9"/>
<line x1="98.3" y1="453.2" x2="98.3" y2="454.8" stroke="#444" stroke-width="0.9"/>
<line x1="98.3" y1="259.5" x2="98.3" y2="261.1" stroke="#444" stroke-width="0.9"/>
<line x1="103.5" y1="453.2" x2="103.5" y2="454.8" stroke="#444" stroke-width="0.9"/>
<line x1="103.5" y1="259.5" x2="103.5" y2="261.1" stroke="#444" stroke-width="0.9"/>
<line x1="108.1" y1="453.2" x2="108.1" y2="454.8" stroke="#444" stroke-width="0.9"/>
<line x1="108.1" y1="259.5" x2="108.1" y2="261.1" stroke="#444" stroke-width="0.9"/>
<line x1="112.1" y1="453.2" x2="112.1" y2="454.8" stroke="#444" stroke-width="0.9"/>
<line x1="112.1" y1="259.5" x2="112.1" y2="261.1" stroke="#444" stroke-width="0.9"/>
<line x1="115.7" y1="453.2" x2="115.7" y2="455.7" stroke="#444" stroke-width="0.9"/>
<line x1="115.7" y1="259.5" x2="115.7" y2="262.0" stroke="#444" stroke-width="0.9"/>
<line x1="139.4" y1="453.2" x2="139.4" y2="454.8" stroke="#444" stroke-width="0.9"/>
<line x1="139.4" y1="259.5" x2="139.4" y2="261.1" stroke="#444" stroke-width="0.9"/>
<line x1="153.2" y1="453.2" x2="153.2" y2="454.8" stroke="#444" stroke-width="0.9"/>
<line x1="153.2" y1="259.5" x2="153.2" y2="261.1" stroke="#444" stroke-width="0.9"/>
<line x1="163.0" y1="453.2" x2="163.0" y2="454.8" stroke="#444" stroke-width="0.9"/>
<line x1="163.0" y1="259.5" x2="163.0" y2="261.1" stroke="#444" stroke-width="0.9"/>
<line x1="170.6" y1="453.2" x2="170.6" y2="454.8" stroke="#444" stroke-width="0.9"/>
<line x1="170.6" y1="259.5" x2="170.6" y2="261.1" stroke="#444" stroke-width="0.9"/>
<line x1="176.9" y1="453.2" x2="176.9" y2="454.8" stroke="#444" stroke-width="0.9"/>
<line x1="176.9" y1="259.5" x2="176.9" y2="261.1" stroke="#444" stroke-width="0.9"/>
<line x1="182.1" y1="453.2" x2="182.1" y2="454.8" stroke="#444" stroke-width="0.9"/>
<line x1="182.1" y1="259.5" x2="182.1" y2="261.1" stroke="#444" stroke-width="0.9"/>
<line x1="186.7" y1="453.2" x2="186.7" y2="454.8" stroke="#444" stroke-width="0.9"/>
<line x1="186.7" y1="259.5" x2="186.7" y2="261.1" stroke="#444" stroke-width="0.9"/>
<line x1="190.7" y1="453.2" x2="190.7" y2="454.8" stroke="#444" stroke-width="0.9"/>
<line x1="190.7" y1="259.5" x2="190.7" y2="261.1" stroke="#444" stroke-width="0.9"/>
<line x1="194.3" y1="453.2" x2="194.3" y2="455.7" stroke="#444" stroke-width="0.9"/>
<line x1="194.3" y1="259.5" x2="194.3" y2="262.0" stroke="#444" stroke-width="0.9"/>
<line x1="218.0" y1="453.2" x2="218.0" y2="454.8" stroke="#444" stroke-width="0.9"/>
<line x1="218.0" y1="259.5" x2="218.0" y2="261.1" stroke="#444" stroke-width="0.9"/>
<line x1="231.8" y1="453.2" x2="231.8" y2="454.8" stroke="#444" stroke-width="0.9"/>
<line x1="231.8" y1="259.5" x2="231.8" y2="261.1" stroke="#444" stroke-width="0.9"/>
<line x1="241.6" y1="453.2" x2="241.6" y2="454.8" stroke="#444" stroke-width="0.9"/>
<line x1="241.6" y1="259.5" x2="241.6" y2="261.1" stroke="#444" stroke-width="0.9"/>
<line x1="249.2" y1="453.2" x2="249.2" y2="454.8" stroke="#444" stroke-width="0.9"/>
<line x1="249.2" y1="259.5" x2="249.2" y2="261.1" stroke="#444" stroke-width="0.9"/>
<line x1="255.5" y1="453.2" x2="255.5" y2="454.8" stroke="#444" stroke-width="0.9"/>
<line x1="255.5" y1="259.5" x2="255.5" y2="261.1" stroke="#444" stroke-width="0.9"/>
<line x1="260.7" y1="453.2" x2="260.7" y2="454.8" stroke="#444" stroke-width="0.9"/>
<line x1="260.7" y1="259.5" x2="260.7" y2="261.1" stroke="#444" stroke-width="0.9"/>
<line x1="265.3" y1="453.2" x2="265.3" y2="454.8" stroke="#444" stroke-width="0.9"/>
<line x1="265.3" y1="259.5" x2="265.3" y2="261.1" stroke="#444" stroke-width="0.9"/>
<line x1="269.3" y1="453.2" x2="269.3" y2="454.8" stroke="#444" stroke-width="0.9"/>
<line x1="269.3" y1="259.5" x2="269.3" y2="261.1" stroke="#444" stroke-width="0.9"/>
<line x1="272.9" y1="453.2" x2="272.9" y2="455.7" stroke="#444" stroke-width="0.9"/>
<line x1="272.9" y1="259.5" x2="272.9" y2="262.0" stroke="#444" stroke-width="0.9"/>
<line x1="305.0" y1="453.2" x2="305.0" y2="454.8" stroke="#444" stroke-width="0.9"/>
<line x1="305.0" y1="259.4" x2="305.0" y2="261.0" stroke="#444" stroke-width="0.9"/>
<line x1="316.1" y1="453.2" x2="316.1" y2="454.8" stroke="#444" stroke-width="0.9"/>
<line x1="316.1" y1="259.4" x2="316.1" y2="261.0" stroke="#444" stroke-width="0.9"/>
<line x1="324.6" y1="453.2" x2="324.6" y2="454.8" stroke="#444" stroke-width="0.9"/>
<line x1="324.6" y1="259.4" x2="324.6" y2="261.0" stroke="#444" stroke-width="0.9"/>
<line x1="331.6" y1="453.2" x2="331.6" y2="454.8" stroke="#444" stroke-width="0.9"/>
<line x1="331.6" y1="259.4" x2="331.6" y2="261.0" stroke="#444" stroke-width="0.9"/>
<line x1="337.5" y1="453.2" x2="337.5" y2="454.8" stroke="#444" stroke-width="0.9"/>
<line x1="337.5" y1="259.4" x2="337.5" y2="261.0" stroke="#444" stroke-width="0.9"/>
<line x1="342.6" y1="453.2" x2="342.6" y2="454.8" stroke="#444" stroke-width="0.9"/>
<line x1="342.6" y1="259.4" x2="342.6" y2="261.0" stroke="#444" stroke-width="0.9"/>
<line x1="347.2" y1="453.2" x2="347.2" y2="454.8" stroke="#444" stroke-width="0.9"/>
<line x1="347.2" y1="259.4" x2="347.2" y2="261.0" stroke="#444" stroke-width="0.9"/>
<line x1="351.2" y1="453.2" x2="351.2" y2="455.7" stroke="#444" stroke-width="0.9"/>
<line x1="351.2" y1="259.4" x2="351.2" y2="261.9" stroke="#444" stroke-width="0.9"/>
<line x1="377.8" y1="453.2" x2="377.8" y2="454.8" stroke="#444" stroke-width="0.9"/>
<line x1="377.8" y1="259.4" x2="377.8" y2="261.0" stroke="#444" stroke-width="0.9"/>
<line x1="393.3" y1="453.2" x2="393.3" y2="454.8" stroke="#444" stroke-width="0.9"/>
<line x1="393.3" y1="259.4" x2="393.3" y2="261.0" stroke="#444" stroke-width="0.9"/>
<line x1="404.4" y1="453.2" x2="404.4" y2="454.8" stroke="#444" stroke-width="0.9"/>
<line x1="404.4" y1="259.4" x2="404.4" y2="261.0" stroke="#444" stroke-width="0.9"/>
<line x1="412.9" y1="453.2" x2="412.9" y2="454.8" stroke="#444" stroke-width="0.9"/>
<line x1="412.9" y1="259.4" x2="412.9" y2="261.0" stroke="#444" stroke-width="0.9"/>
<line x1="419.9" y1="453.2" x2="419.9" y2="454.8" stroke="#444" stroke-width="0.9"/>
<line x1="419.9" y1="259.4" x2="419.9" y2="261.0" stroke="#444" stroke-width="0.9"/>
<line x1="425.8" y1="453.2" x2="425.8" y2="454.8" stroke="#444" stroke-width="0.9"/>
<line x1="425.8" y1="259.4" x2="425.8" y2="261.0" stroke="#444" stroke-width="0.9"/>
<line x1="430.9" y1="453.2" x2="430.9" y2="454.8" stroke="#444" stroke-width="0.9"/>
<line x1="430.9" y1="259.4" x2="430.9" y2="261.0" stroke="#444" stroke-width="0.9"/>
<line x1="435.5" y1="453.2" x2="435.5" y2="454.8" stroke="#444" stroke-width="0.9"/>
<line x1="435.5" y1="259.4" x2="435.5" y2="261.0" stroke="#444" stroke-width="0.9"/>
<line x1="439.5" y1="453.2" x2="439.5" y2="455.7" stroke="#444" stroke-width="0.9"/>
<line x1="439.5" y1="259.4" x2="439.5" y2="261.9" stroke="#444" stroke-width="0.9"/>
<line x1="466.1" y1="453.2" x2="466.1" y2="454.8" stroke="#444" stroke-width="0.9"/>
<line x1="466.1" y1="259.4" x2="466.1" y2="261.0" stroke="#444" stroke-width="0.9"/>
<line x1="481.6" y1="453.2" x2="481.6" y2="454.8" stroke="#444" stroke-width="0.9"/>
<line x1="481.6" y1="259.4" x2="481.6" y2="261.0" stroke="#444" stroke-width="0.9"/>
<line x1="492.7" y1="453.2" x2="492.7" y2="454.8" stroke="#444" stroke-width="0.9"/>
<line x1="492.7" y1="259.4" x2="492.7" y2="261.0" stroke="#444" stroke-width="0.9"/>
<line x1="501.2" y1="453.2" x2="501.2" y2="454.8" stroke="#444" stroke-width="0.9"/>
<line x1="501.2" y1="259.4" x2="501.2" y2="261.0" stroke="#444" stroke-width="0.9"/>
<line x1="508.2" y1="453.2" x2="508.2" y2="454.8" stroke="#444" stroke-width="0.9"/>
<line x1="508.2" y1="259.4" x2="508.2" y2="261.0" stroke="#444" stroke-width="0.9"/>
<line x1="514.1" y1="453.2" x2="514.1" y2="454.8" stroke="#444" stroke-width="0.9"/>
<line x1="514.1" y1="259.4" x2="514.1" y2="261.0" stroke="#444" stroke-width="0.9"/>
<line x1="519.2" y1="453.2" x2="519.2" y2="454.8" stroke="#444" stroke-width="0.9"/>
<line x1="519.2" y1="259.4" x2="519.2" y2="261.0" stroke="#444" stroke-width="0.9"/>
<line x1="523.8" y1="453.2" x2="523.8" y2="454.8" stroke="#444" stroke-width="0.9"/>
<line x1="523.8" y1="259.4" x2="523.8" y2="261.0" stroke="#444" stroke-width="0.9"/>
<line x1="527.8" y1="453.2" x2="527.8" y2="455.7" stroke="#444" stroke-width="0.9"/>
<line x1="527.8" y1="259.4" x2="527.8" y2="261.9" stroke="#444" stroke-width="0.9"/>
<text x="54.44" y="14.94" font-family='"Liberation Sans", sans-serif' font-size="19.79" textLength="25.67" lengthAdjust="spacingAndGlyphs" fill="#000" >(a)</text>
<text x="303.34" y="14.94" font-family='"Liberation Sans", sans-serif' font-size="19.79" textLength="25.67" lengthAdjust="spacingAndGlyphs" fill="#000" >(b)</text>
<text x="48.31" y="245.38" font-family='"Liberation Sans", sans-serif' font-size="21.07" textLength="25.11" lengthAdjust="spacingAndGlyphs" fill="#000" >(c)</text>
<text x="309.20" y="245.38" font-family='"Liberation Sans", sans-serif' font-size="21.07" textLength="26.56" lengthAdjust="spacingAndGlyphs" fill="#000" >(d)</text>
<text x="52.6" y="208.2" font-family='"Liberation Serif", serif' font-size="11.5" fill="#000" text-anchor="end" >1E-7</text>
<text x="52.6" y="184.23999999999998" font-family='"Liberation Serif", serif' font-size="11.5" fill="#000" text-anchor="end" >1E-6</text>
<text x="52.6" y="160.27999999999997" font-family='"Liberation Serif", serif' font-size="11.5" fill="#000" text-anchor="end" >1E-5</text>
<text x="52.6" y="136.32" font-family='"Liberation Serif", serif' font-size="11.5" fill="#000" text-anchor="end" >1E-4</text>
<text x="52.6" y="112.35999999999999" font-family='"Liberation Serif", serif' font-size="11.5" fill="#000" text-anchor="end" >0.001</text>
<text x="52.6" y="88.39999999999998" font-family='"Liberation Serif", serif' font-size="11.5" fill="#000" text-anchor="end" >0.01</text>
<text x="52.6" y="64.44" font-family='"Liberation Serif", serif' font-size="11.5" fill="#000" text-anchor="end" >0.1</text>
<text x="52.6" y="40.47999999999999" font-family='"Liberation Serif", serif' font-size="11.5" fill="#000" text-anchor="end" >1</text>
<text x="43.8" y="456.8" font-family='"Liberation Serif", serif' font-size="10.5" fill="#000" text-anchor="end" >1E-6</text>
<text x="43.8" y="426.90000000000003" font-family='"Liberation Serif", serif' font-size="10.5" fill="#000" text-anchor="end" >1E-5</text>
<text x="43.8" y="397.0" font-family='"Liberation Serif", serif' font-size="10.5" fill="#000" text-anchor="end" >1E-4</text>
<text x="43.8" y="367.1" font-family='"Liberation Serif", serif' font-size="10.5" fill="#000" text-anchor="end" >0.001</text>
<text x="43.8" y="337.20000000000005" font-family='"Liberation Serif", serif' font-size="10.5" fill="#000" text-anchor="end" >0.01</text>
<text x="43.8" y="307.3" font-family='"Liberation Serif", serif' font-size="10.5" fill="#000" text-anchor="end" >0.1</text>
<text x="43.8" y="277.40000000000003" font-family='"Liberation Serif", serif' font-size="10.5" fill="#000" text-anchor="end" >1</text>
<text x="53.94" y="220.67" font-family='"Liberation Serif", serif' font-size="13.43" textLength="12.98" lengthAdjust="spacingAndGlyphs" fill="#000" >45</text>
<text x="115.81" y="220.67" font-family='"Liberation Serif", serif' font-size="13.33" textLength="13.12" lengthAdjust="spacingAndGlyphs" fill="#000" >90</text>
<text x="174.52" y="220.67" font-family='"Liberation Serif", serif' font-size="13.43" textLength="18.98" lengthAdjust="spacingAndGlyphs" fill="#000" >135</text>
<text x="236.52" y="220.67" font-family='"Liberation Serif", serif' font-size="13.33" textLength="18.98" lengthAdjust="spacingAndGlyphs" fill="#000" >180</text>
<text x="295.44" y="220.67" font-family='"Liberation Serif", serif' font-size="13.43" textLength="12.98" lengthAdjust="spacingAndGlyphs" fill="#000" >45</text>
<text x="357.31" y="220.67" font-family='"Liberation Serif", serif' font-size="13.33" textLength="13.12" lengthAdjust="spacingAndGlyphs" fill="#000" >90</text>
<text x="416.02" y="220.67" font-family='"Liberation Serif", serif' font-size="13.43" textLength="18.98" lengthAdjust="spacingAndGlyphs" fill="#000" >135</text>
<text x="478.02" y="220.67" font-family='"Liberation Serif", serif' font-size="13.33" textLength="18.98" lengthAdjust="spacingAndGlyphs" fill="#000" >180</text>
<text x="107.95" y="468.32" font-family='"Liberation Serif", serif' font-size="12.06" textLength="14.13" lengthAdjust="spacingAndGlyphs" fill="#000" >0.1</text>
<text x="190.90" y="468.50" font-family='"Liberation Serif", serif' font-size="12.42" textLength="6.48" lengthAdjust="spacingAndGlyphs" fill="#000" >1</text>
<text x="266.81" y="468.38" font-family='"Liberation Serif", serif' font-size="12.15" textLength="11.66" lengthAdjust="spacingAndGlyphs" fill="#000" >10</text>
<text x="343.45" y="468.32" font-family='"Liberation Serif", serif' font-size="12.06" textLength="14.13" lengthAdjust="spacingAndGlyphs" fill="#000" >0.1</text>
<text x="436.10" y="468.50" font-family='"Liberation Serif", serif' font-size="12.42" textLength="6.48" lengthAdjust="spacingAndGlyphs" fill="#000" >1</text>
<text x="521.71" y="468.38" font-family='"Liberation Serif", serif' font-size="12.15" textLength="11.66" lengthAdjust="spacingAndGlyphs" fill="#000" >10</text>
<text x="159.3" y="237.6" font-family='"Liberation Serif", serif' font-size="16" textLength="29.4" lengthAdjust="spacingAndGlyphs"><tspan font-style="italic">θ</tspan>(°)</text>
<text x="400.8" y="237.6" font-family='"Liberation Serif", serif' font-size="16" textLength="28.7" lengthAdjust="spacingAndGlyphs"><tspan font-style="italic">θ</tspan>(°)</text>
<text transform="translate(13.5,117.6) rotate(-90)" font-family='"Liberation Serif", serif' font-size="15" text-anchor="middle" textLength="86.5" lengthAdjust="spacingAndGlyphs"><tspan font-style="italic">J</tspan><tspan font-style="italic" font-size="10.5" dy="3">c</tspan><tspan dy="-3"> (MA/ cm</tspan><tspan font-size="10" dy="-5">2</tspan><tspan dy="5">)</tspan></text>
<text transform="translate(16.2,358.7) rotate(-90)" font-family='"Liberation Serif", serif' font-size="15" text-anchor="middle" textLength="88.6" lengthAdjust="spacingAndGlyphs"><tspan font-style="italic">J</tspan><tspan font-style="italic" font-size="10.5" dy="3">c</tspan><tspan dy="-3"> (MA/ cm</tspan><tspan font-size="10" dy="-5">2</tspan><tspan dy="5">)</tspan></text>
<text x="160.8" y="489.3" font-family='"Liberation Serif", serif' font-size="16" text-anchor="middle"><tspan font-style="italic">μ</tspan><tspan font-style="italic" font-size="11" dy="3">0</tspan><tspan font-style="italic" dy="-3">H</tspan><tspan font-style="italic" font-size="11" dy="3">eff</tspan><tspan font-style="italic" dy="-3">(γ</tspan><tspan font-style="italic" font-size="11" dy="3">eff</tspan><tspan font-style="italic" dy="-3">=6)</tspan> (T)</text>
<text x="415.5" y="490" font-family='"Liberation Serif", serif' font-size="16" text-anchor="middle"><tspan font-style="italic">μ</tspan><tspan font-style="italic" font-size="11" dy="3">0</tspan><tspan font-style="italic" dy="-3">H</tspan><tspan font-style="italic" font-size="11" dy="3">eff</tspan><tspan font-style="italic" dy="-3">(γ</tspan><tspan font-style="italic" font-size="11" dy="3">eff</tspan><tspan font-style="italic" dy="-3">=2.5)</tspan> (T)</text>
<text x="61.86" y="175.24" font-family='"Liberation Serif", serif' font-size="16.42" textLength="54.88" lengthAdjust="spacingAndGlyphs" fill="#000" stroke="#000" stroke-width="0.3">Pristine</text>
<text x="62.06" y="197.00" font-family='"Liberation Serif", serif' font-size="16.95" textLength="48.64" lengthAdjust="spacingAndGlyphs" fill="#000" stroke="#000" stroke-width="0.3">T=77K</text>
<text x="306.28" y="176.90" font-family='"Liberation Serif", serif' font-size="17.12" textLength="108.04" lengthAdjust="spacingAndGlyphs" fill="#000" stroke="#000" stroke-width="0.3">Nanocomposite</text>
<text x="306.46" y="196.00" font-family='"Liberation Serif", serif' font-size="17.40" textLength="48.94" lengthAdjust="spacingAndGlyphs" fill="#000" stroke="#000" stroke-width="0.3">T=77K</text>
<text x="56.25" y="420.33" font-family='"Liberation Serif", serif' font-size="17.31" textLength="56.21" lengthAdjust="spacingAndGlyphs" fill="#000" stroke="#000" stroke-width="0.3">Pristine</text>
<text x="57.77" y="444.00" font-family='"Liberation Serif", serif' font-size="18.63" textLength="48.23" lengthAdjust="spacingAndGlyphs" fill="#000" stroke="#000" stroke-width="0.3">T=77K</text>
<text x="311.27" y="422.60" font-family='"Liberation Serif", serif' font-size="17.88" textLength="111.48" lengthAdjust="spacingAndGlyphs" fill="#000" stroke="#000" stroke-width="0.3">Nanocomposite</text>
<text x="311.46" y="443.70" font-family='"Liberation Serif", serif' font-size="17.40" textLength="48.94" lengthAdjust="spacingAndGlyphs" fill="#000" stroke="#000" stroke-width="0.3">T=77K</text>
<text x="123.81" y="201.0" font-family='"Liberation Serif", serif' font-size="11.30" textLength="26.93" lengthAdjust="spacingAndGlyphs">H<tspan fill="#7050a0">||</tspan>ab</text>
<text x="247.11" y="201.0" font-family='"Liberation Serif", serif' font-size="11.30" textLength="20.44" lengthAdjust="spacingAndGlyphs">H<tspan fill="#7050a0">||</tspan>c</text>
<text x="364.72" y="200.0" font-family='"Liberation Serif", serif' font-size="11.30" textLength="26.41" lengthAdjust="spacingAndGlyphs">H<tspan fill="#888">||</tspan>ab</text>
<text x="490.42" y="202.4" font-family='"Liberation Serif", serif' font-size="11.30" textLength="19.92" lengthAdjust="spacingAndGlyphs">H<tspan fill="#888">||</tspan>c</text>
<text x="162.11" y="35.21" font-family='"Liberation Serif", serif' font-size="12.65" textLength="22.58" lengthAdjust="spacingAndGlyphs" fill="#0000ff" stroke="#0000ff" stroke-width="0.25">0.1T</text>
<text x="156.31" y="49.42" font-family='"Liberation Serif", serif' font-size="12.21" textLength="22.58" lengthAdjust="spacingAndGlyphs" fill="#ff0000" stroke="#ff0000" stroke-width="0.25">0.5T</text>
<text x="147.30" y="71.10" font-family='"Liberation Serif", serif' font-size="13.18" textLength="11.77" lengthAdjust="spacingAndGlyphs" fill="#808000" stroke="#808000" stroke-width="0.25">1T</text>
<text x="167.31" y="95.67" font-family='"Liberation Serif", serif' font-size="12.78" textLength="14.60" lengthAdjust="spacingAndGlyphs" fill="#ff00ff" stroke="#ff00ff" stroke-width="0.25">5T</text>
<text x="166.82" y="140.16" font-family='"Liberation Serif", serif' font-size="13.58" textLength="14.19" lengthAdjust="spacingAndGlyphs" fill="#ff7f00" stroke="#ff7f00" stroke-width="0.25">9T</text>
<text x="447.13" y="39.92" font-family='"Liberation Serif", serif' font-size="11.91" textLength="21.86" lengthAdjust="spacingAndGlyphs" fill="#0000ff" stroke="#0000ff" stroke-width="0.25">0.1T</text>
<text x="447.27" y="57.50" font-family='"Liberation Serif", serif' font-size="12.88" textLength="13.42" lengthAdjust="spacingAndGlyphs" fill="#808000" stroke="#808000" stroke-width="0.25">1T</text>
<text x="447.08" y="78.67" font-family='"Liberation Serif", serif' font-size="13.13" textLength="12.80" lengthAdjust="spacingAndGlyphs" fill="#00ffff" stroke="#00ffff" stroke-width="0.25">3T</text>
<text x="446.90" y="99.87" font-family='"Liberation Serif", serif' font-size="13.23" textLength="12.99" lengthAdjust="spacingAndGlyphs" fill="#ff00ff" stroke="#ff00ff" stroke-width="0.25">5T</text>
<text x="446.79" y="139.10" font-family='"Liberation Serif", serif' font-size="13.44" textLength="13.91" lengthAdjust="spacingAndGlyphs" fill="#007f00" stroke="#007f00" stroke-width="0.25">7T</text>
<text x="447.24" y="176.07" font-family='"Liberation Serif", serif' font-size="12.84" textLength="13.46" lengthAdjust="spacingAndGlyphs" fill="#ff7f00" stroke="#ff7f00" stroke-width="0.25">9T</text>
<text x="254.0" y="159.7" font-family='"Liberation Sans", sans-serif' font-weight="bold" font-size="11.5">J<tspan font-size="8.6" dy="2.5">c</tspan><tspan font-size="8.6" dy="-8">aniso</tspan></text>
<text x="199.0" y="189.3" font-family='"Liberation Sans", sans-serif' font-weight="bold" font-size="11.5">J<tspan font-size="8.6" dy="2.5">c</tspan><tspan font-size="8.6" dy="-8">iso</tspan></text>
<text x="492.0" y="181.0" font-family='"Liberation Sans", sans-serif' font-weight="bold" font-size="11.5">J<tspan font-size="8.6" dy="2.5">c</tspan><tspan font-size="8.6" dy="-8">aniso</tspan></text>
<text x="420.2" y="189.0" font-family='"Liberation Sans", sans-serif' font-weight="bold" font-size="11.5">J<tspan font-size="8.6" dy="2.5">c</tspan><tspan font-size="8.6" dy="-8">iso</tspan></text>
<text x="55.18" y="284.61" font-family='"Liberation Serif", serif' font-size="12.35" textLength="24.02" lengthAdjust="spacingAndGlyphs" fill="#0000ff" stroke="#0000ff" stroke-width="0.25">0.1T</text>
<text x="125.23" y="274.70" font-family='"Liberation Serif", serif' font-size="14.09" textLength="13.97" lengthAdjust="spacingAndGlyphs" fill="#808000" stroke="#808000" stroke-width="0.25">1T</text>
<text x="210.61" y="297.17" font-family='"Liberation Serif", serif' font-size="12.99" textLength="14.29" lengthAdjust="spacingAndGlyphs" fill="#ff7f00" stroke="#ff7f00" stroke-width="0.25">9T</text>
<text x="164.23" y="272.4" font-family='"Liberation Serif", serif' font-size="12.50" textLength="32.11" lengthAdjust="spacingAndGlyphs">H<tspan fill="#203060">||</tspan>ab</text>
<text x="248.07" y="315.3" font-family='"Liberation Serif", serif' font-size="13.00" textLength="22.62" lengthAdjust="spacingAndGlyphs">H<tspan fill="#203060">||</tspan>c</text>
<line x1="164.1" y1="268.6" x2="138.12" y2="275.16" stroke="#000" stroke-width="0.8"/>
<path d="M135.6,275.8 L137.80,273.90 L138.44,276.42 Z" fill="#000"/>
<line x1="162.8" y1="273" x2="159.39" y2="277.44" stroke="#000" stroke-width="0.8"/>
<path d="M157.8,279.5 L158.35,276.65 L160.42,278.23 Z" fill="#000"/>
<line x1="171.3" y1="275.8" x2="171.09" y2="278.81" stroke="#000" stroke-width="0.8"/>
<path d="M170.9,281.4 L169.79,278.71 L172.38,278.90 Z" fill="#000"/>
<line x1="179.2" y1="275.8" x2="179.96" y2="281.62" stroke="#000" stroke-width="0.8"/>
<path d="M180.3,284.2 L178.67,281.79 L181.25,281.45 Z" fill="#000"/>
<line x1="184.4" y1="274.8" x2="185.83" y2="282.54" stroke="#000" stroke-width="0.8"/>
<path d="M186.3,285.1 L184.55,282.78 L187.11,282.31 Z" fill="#000"/>
<line x1="188.2" y1="273.9" x2="191.19" y2="284.50" stroke="#000" stroke-width="0.8"/>
<path d="M191.9,287 L189.94,284.85 L192.44,284.14 Z" fill="#000"/>
<line x1="191.9" y1="273" x2="196.59" y2="285.56" stroke="#000" stroke-width="0.8"/>
<path d="M197.5,288 L195.37,286.02 L197.81,285.11 Z" fill="#000"/>
<line x1="193.8" y1="273" x2="201.88" y2="286.66" stroke="#000" stroke-width="0.8"/>
<path d="M203.2,288.9 L200.76,287.32 L203.00,286.00 Z" fill="#000"/>
<line x1="195.7" y1="273" x2="206.43" y2="288.66" stroke="#000" stroke-width="0.8"/>
<path d="M207.9,290.8 L205.36,289.39 L207.50,287.92 Z" fill="#000"/>
<line x1="247.7" y1="316.9" x2="245.44" y2="319.16" stroke="#000" stroke-width="0.8"/>
<path d="M243.6,321 L244.52,318.24 L246.36,320.08 Z" fill="#000"/>
<line x1="252.5" y1="319.4" x2="251.72" y2="321.73" stroke="#000" stroke-width="0.8"/>
<path d="M250.9,324.2 L250.49,321.32 L252.96,322.14 Z" fill="#000"/>
<line x1="257.4" y1="320.2" x2="256.19" y2="326.45" stroke="#000" stroke-width="0.8"/>
<path d="M255.7,329 L254.92,326.20 L257.47,326.69 Z" fill="#000"/>
<line x1="261.4" y1="322.6" x2="261.40" y2="336.10" stroke="#000" stroke-width="0.8"/>
<path d="M261.4,338.7 L260.10,336.10 L262.70,336.10 Z" fill="#000"/>
<line x1="265.4" y1="322.6" x2="268.39" y2="358.71" stroke="#000" stroke-width="0.8"/>
<path d="M268.6,361.3 L267.09,358.82 L269.68,358.60 Z" fill="#000"/>
<line x1="270" y1="318" x2="271.90" y2="365.40" stroke="#000" stroke-width="0.8"/>
<path d="M272,368 L270.60,365.45 L273.20,365.35 Z" fill="#000"/>
<text x="317.86" y="282.09" font-family='"Liberation Serif", serif' font-size="13.82" textLength="25.05" lengthAdjust="spacingAndGlyphs" fill="#0000ff" stroke="#0000ff" stroke-width="0.25">0.1T</text>
<text x="415.66" y="273.10" font-family='"Liberation Serif", serif' font-size="13.79" textLength="12.32" lengthAdjust="spacingAndGlyphs" fill="#808000" stroke="#808000" stroke-width="0.25">1T</text>
<text x="458.79" y="279.26" font-family='"Liberation Serif", serif' font-size="13.83" textLength="15.03" lengthAdjust="spacingAndGlyphs" fill="#ff00ff" stroke="#ff00ff" stroke-width="0.25">5T</text>
<text x="492.31" y="302.07" font-family='"Liberation Serif", serif' font-size="13.13" textLength="14.50" lengthAdjust="spacingAndGlyphs" fill="#ff7f00" stroke="#ff7f00" stroke-width="0.25">9T</text>
</svg>
</body></html>
